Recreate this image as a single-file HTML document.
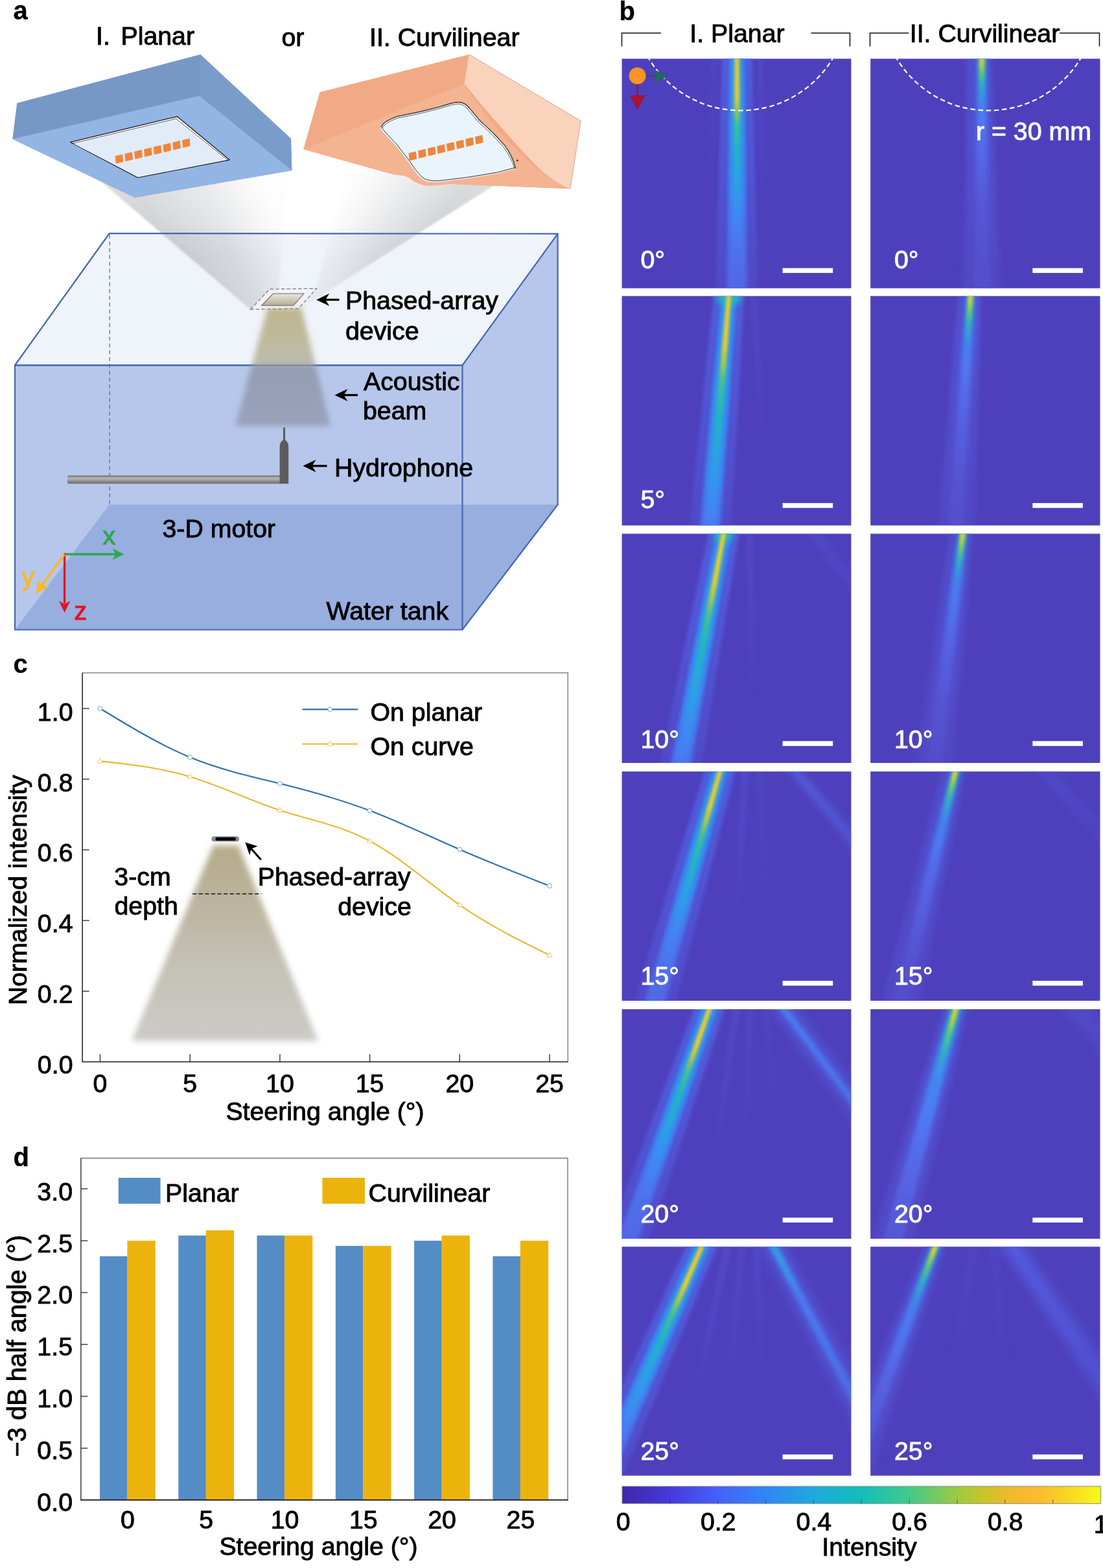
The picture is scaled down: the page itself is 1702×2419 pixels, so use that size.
<!DOCTYPE html>
<html lang="en">
<head>
<meta charset="utf-8">
<title>Phased-array beam steering on planar and curvilinear surfaces</title>
<style>
html,body{margin:0;padding:0;background:#fff;}
body{width:1702px;height:2419px;overflow:hidden;}
svg{display:block;}
text{font-family:"Liberation Sans", sans-serif;}
</style>
</head>
<body>
<svg width="1702" height="2419" viewBox="0 0 1702 2419">
<defs>
<linearGradient id="gbL" gradientUnits="userSpaceOnUse" x1="260" y1="400" x2="425" y2="330">
<stop offset="0" stop-color="#939599" stop-opacity="0.50"/><stop offset="0.55" stop-color="#9c9ea3" stop-opacity="0.30"/><stop offset="1" stop-color="#b3b5ba" stop-opacity="0.04"/></linearGradient>
<linearGradient id="gbR" gradientUnits="userSpaceOnUse" x1="505" y1="350" x2="640" y2="420">
<stop offset="0" stop-color="#b3b5ba" stop-opacity="0.03"/><stop offset="0.5" stop-color="#9c9ea3" stop-opacity="0.28"/><stop offset="1" stop-color="#939599" stop-opacity="0.50"/></linearGradient>
<linearGradient id="gfade" gradientUnits="userSpaceOnUse" x1="0" y1="280" x2="0" y2="400">
<stop offset="0" stop-color="#fff" stop-opacity="0.35"/><stop offset="1" stop-color="#fff" stop-opacity="0"/></linearGradient>
<filter id="blur2" x="-10%" y="-10%" width="120%" height="120%"><feGaussianBlur stdDeviation="1.5"/></filter>
<filter id="blur4" x="-20%" y="-20%" width="140%" height="140%"><feGaussianBlur stdDeviation="4.2"/></filter>
<linearGradient id="gac" gradientUnits="userSpaceOnUse" x1="0" y1="470" x2="0" y2="660">
<stop offset="0" stop-color="#b8ad80" stop-opacity="0.88"/><stop offset="0.3" stop-color="#b7b08e" stop-opacity="0.85"/><stop offset="0.47" stop-color="#b3b1a0" stop-opacity="0.85"/><stop offset="0.5" stop-color="#858a98" stop-opacity="0.68"/><stop offset="1" stop-color="#878c9c" stop-opacity="0.62"/></linearGradient>
<linearGradient id="grod" x1="0" y1="0" x2="0" y2="1">
<stop offset="0" stop-color="#6f6f6f"/><stop offset="0.35" stop-color="#b9b9b9"/><stop offset="0.7" stop-color="#8e8e8e"/><stop offset="1" stop-color="#6a6a6a"/></linearGradient>
<linearGradient id="gdev" gradientUnits="userSpaceOnUse" x1="0" y1="452" x2="0" y2="472">
<stop offset="0" stop-color="#ecebe6"/><stop offset="1" stop-color="#b5ab8c"/></linearGradient>

<linearGradient id="gin" gradientUnits="userSpaceOnUse" x1="0" y1="1300" x2="0" y2="1610">
<stop offset="0" stop-color="#b6ab8a"/><stop offset="0.25" stop-color="#bab29a"/><stop offset="0.6" stop-color="#c4c0b4"/><stop offset="1" stop-color="#cccbc8"/></linearGradient>
<filter id="blur5" x="-10%" y="-10%" width="120%" height="120%"><feGaussianBlur stdDeviation="4.6"/></filter>
<filter id="fb1" x="-200%" y="-10%" width="500%" height="120%"><feGaussianBlur stdDeviation="1.9"/></filter>
<filter id="fb3" x="-200%" y="-10%" width="500%" height="120%"><feGaussianBlur stdDeviation="3"/></filter>
<filter id="fb5" x="-200%" y="-10%" width="500%" height="120%"><feGaussianBlur stdDeviation="5"/></filter>
<filter id="fb8" x="-200%" y="-10%" width="500%" height="120%"><feGaussianBlur stdDeviation="8"/></filter>
<clipPath id="cl00"><rect x="959.6" y="90.6" width="353.8" height="354.1"/></clipPath>
<clipPath id="cl01"><rect x="959.6" y="456.7" width="353.8" height="353.9"/></clipPath>
<clipPath id="cl02"><rect x="959.6" y="823.4" width="353.8" height="353.6"/></clipPath>
<clipPath id="cl03"><rect x="959.6" y="1190.2" width="353.8" height="353.7"/></clipPath>
<clipPath id="cl04"><rect x="959.6" y="1557.0" width="353.8" height="354.0"/></clipPath>
<clipPath id="cl05"><rect x="959.6" y="1923.3" width="353.8" height="353.3"/></clipPath>
<clipPath id="cl10"><rect x="1343.2" y="90.6" width="354.3" height="354.1"/></clipPath>
<clipPath id="cl11"><rect x="1343.2" y="456.7" width="354.3" height="353.9"/></clipPath>
<clipPath id="cl12"><rect x="1343.2" y="823.4" width="354.3" height="353.6"/></clipPath>
<clipPath id="cl13"><rect x="1343.2" y="1190.2" width="354.3" height="353.7"/></clipPath>
<clipPath id="cl14"><rect x="1343.2" y="1557.0" width="354.3" height="354.0"/></clipPath>
<clipPath id="cl15"><rect x="1343.2" y="1923.3" width="354.3" height="353.3"/></clipPath>
<linearGradient id="lg1" gradientUnits="userSpaceOnUse" x1="0" y1="-24" x2="0" y2="380"><stop offset="0.000" stop-color="#5364ea" stop-opacity="0.420"/><stop offset="0.554" stop-color="#5364ea" stop-opacity="0.360"/><stop offset="1.000" stop-color="#5560e4" stop-opacity="0.300"/></linearGradient>
<linearGradient id="lg2" gradientUnits="userSpaceOnUse" x1="0" y1="-24" x2="0" y2="380"><stop offset="0.000" stop-color="#5674f8" stop-opacity="0.700"/><stop offset="0.431" stop-color="#5672f6" stop-opacity="0.500"/><stop offset="0.802" stop-color="#5870f4" stop-opacity="0.250"/><stop offset="1.000" stop-color="#5a6cf0" stop-opacity="0.120"/></linearGradient>
<linearGradient id="lg3" gradientUnits="userSpaceOnUse" x1="0" y1="-24" x2="0" y2="380"><stop offset="0.000" stop-color="#5674f8" stop-opacity="0.700"/><stop offset="0.431" stop-color="#5672f6" stop-opacity="0.500"/><stop offset="0.802" stop-color="#5870f4" stop-opacity="0.250"/><stop offset="1.000" stop-color="#5a6cf0" stop-opacity="0.120"/></linearGradient>
<linearGradient id="lg4" gradientUnits="userSpaceOnUse" x1="0" y1="-24" x2="0" y2="380"><stop offset="0.000" stop-color="#3193f6" stop-opacity="0.970"/><stop offset="0.327" stop-color="#2f97f4" stop-opacity="0.970"/><stop offset="0.572" stop-color="#3a90f8" stop-opacity="0.900"/><stop offset="0.728" stop-color="#4a82fb" stop-opacity="0.780"/><stop offset="1.000" stop-color="#5676f6" stop-opacity="0.580"/></linearGradient>
<linearGradient id="lg5" gradientUnits="userSpaceOnUse" x1="0" y1="-24" x2="0" y2="380"><stop offset="0.000" stop-color="#e9cf27" stop-opacity="1.000"/><stop offset="0.198" stop-color="#e3d02c" stop-opacity="1.000"/><stop offset="0.249" stop-color="#a6cc4a" stop-opacity="1.000"/><stop offset="0.304" stop-color="#45c290" stop-opacity="0.970"/><stop offset="0.394" stop-color="#1fb8bc" stop-opacity="0.950"/><stop offset="0.538" stop-color="#27a6e0" stop-opacity="0.800"/><stop offset="0.705" stop-color="#3a92f6" stop-opacity="0.300"/><stop offset="0.817" stop-color="#3a92f6" stop-opacity="0.000"/><stop offset="1.000" stop-color="#3a92f6" stop-opacity="0.000"/></linearGradient>
<linearGradient id="lg6" gradientUnits="userSpaceOnUse" x1="0" y1="-40" x2="0" y2="440"><stop offset="0.000" stop-color="#5a66ea" stop-opacity="0.3"/><stop offset="0.344" stop-color="#5a66ea" stop-opacity="0.15"/><stop offset="0.604" stop-color="#5a66ea" stop-opacity="0.0"/><stop offset="1.000" stop-color="#5a66ea" stop-opacity="0"/></linearGradient>
<linearGradient id="lg7" gradientUnits="userSpaceOnUse" x1="0" y1="-40" x2="0" y2="440"><stop offset="0.000" stop-color="#5a66ea" stop-opacity="0.2"/><stop offset="0.344" stop-color="#5a66ea" stop-opacity="0.1"/><stop offset="0.604" stop-color="#5a66ea" stop-opacity="0.0"/><stop offset="1.000" stop-color="#5a66ea" stop-opacity="0"/></linearGradient>
<linearGradient id="lg8" gradientUnits="userSpaceOnUse" x1="0" y1="-24" x2="0" y2="380"><stop offset="0.000" stop-color="#5364ea" stop-opacity="0.420"/><stop offset="0.554" stop-color="#5364ea" stop-opacity="0.360"/><stop offset="1.000" stop-color="#5560e4" stop-opacity="0.300"/></linearGradient>
<linearGradient id="lg9" gradientUnits="userSpaceOnUse" x1="0" y1="-24" x2="0" y2="380"><stop offset="0.000" stop-color="#5674f8" stop-opacity="0.700"/><stop offset="0.431" stop-color="#5672f6" stop-opacity="0.500"/><stop offset="0.802" stop-color="#5870f4" stop-opacity="0.250"/><stop offset="1.000" stop-color="#5a6cf0" stop-opacity="0.120"/></linearGradient>
<linearGradient id="lg10" gradientUnits="userSpaceOnUse" x1="0" y1="-24" x2="0" y2="380"><stop offset="0.000" stop-color="#5674f8" stop-opacity="0.700"/><stop offset="0.431" stop-color="#5672f6" stop-opacity="0.500"/><stop offset="0.802" stop-color="#5870f4" stop-opacity="0.250"/><stop offset="1.000" stop-color="#5a6cf0" stop-opacity="0.120"/></linearGradient>
<linearGradient id="lg11" gradientUnits="userSpaceOnUse" x1="0" y1="-24" x2="0" y2="380"><stop offset="0.000" stop-color="#3193f6" stop-opacity="0.970"/><stop offset="0.416" stop-color="#2f97f4" stop-opacity="0.970"/><stop offset="0.743" stop-color="#3a90f8" stop-opacity="0.900"/><stop offset="0.950" stop-color="#4a82fb" stop-opacity="0.780"/><stop offset="1.000" stop-color="#5676f6" stop-opacity="0.580"/></linearGradient>
<linearGradient id="lg12" gradientUnits="userSpaceOnUse" x1="0" y1="-24" x2="0" y2="380"><stop offset="0.000" stop-color="#e9cf27" stop-opacity="1.000"/><stop offset="0.244" stop-color="#e3d02c" stop-opacity="1.000"/><stop offset="0.312" stop-color="#a6cc4a" stop-opacity="1.000"/><stop offset="0.386" stop-color="#45c290" stop-opacity="0.970"/><stop offset="0.505" stop-color="#1fb8bc" stop-opacity="0.950"/><stop offset="0.698" stop-color="#27a6e0" stop-opacity="0.800"/><stop offset="0.921" stop-color="#3a92f6" stop-opacity="0.300"/><stop offset="1.000" stop-color="#3a92f6" stop-opacity="0.000"/><stop offset="1.000" stop-color="#3a92f6" stop-opacity="0.000"/></linearGradient>
<linearGradient id="lg13" gradientUnits="userSpaceOnUse" x1="0" y1="-40" x2="0" y2="440"><stop offset="0.000" stop-color="#5a66ea" stop-opacity="0.25"/><stop offset="0.354" stop-color="#5a66ea" stop-opacity="0.125"/><stop offset="0.625" stop-color="#5a66ea" stop-opacity="0"/><stop offset="1.000" stop-color="#5a66ea" stop-opacity="0"/></linearGradient>
<linearGradient id="lg14" gradientUnits="userSpaceOnUse" x1="0" y1="-24" x2="0" y2="380"><stop offset="0.000" stop-color="#5364ea" stop-opacity="0.420"/><stop offset="0.554" stop-color="#5364ea" stop-opacity="0.360"/><stop offset="1.000" stop-color="#5560e4" stop-opacity="0.300"/></linearGradient>
<linearGradient id="lg15" gradientUnits="userSpaceOnUse" x1="0" y1="-24" x2="0" y2="380"><stop offset="0.000" stop-color="#5674f8" stop-opacity="0.700"/><stop offset="0.431" stop-color="#5672f6" stop-opacity="0.500"/><stop offset="0.802" stop-color="#5870f4" stop-opacity="0.250"/><stop offset="1.000" stop-color="#5a6cf0" stop-opacity="0.120"/></linearGradient>
<linearGradient id="lg16" gradientUnits="userSpaceOnUse" x1="0" y1="-24" x2="0" y2="380"><stop offset="0.000" stop-color="#5674f8" stop-opacity="0.700"/><stop offset="0.431" stop-color="#5672f6" stop-opacity="0.500"/><stop offset="0.802" stop-color="#5870f4" stop-opacity="0.250"/><stop offset="1.000" stop-color="#5a6cf0" stop-opacity="0.120"/></linearGradient>
<linearGradient id="lg17" gradientUnits="userSpaceOnUse" x1="0" y1="-24" x2="0" y2="380"><stop offset="0.000" stop-color="#3193f6" stop-opacity="0.970"/><stop offset="0.401" stop-color="#2f97f4" stop-opacity="0.970"/><stop offset="0.714" stop-color="#3a90f8" stop-opacity="0.900"/><stop offset="0.913" stop-color="#4a82fb" stop-opacity="0.780"/><stop offset="1.000" stop-color="#5676f6" stop-opacity="0.580"/></linearGradient>
<linearGradient id="lg18" gradientUnits="userSpaceOnUse" x1="0" y1="-24" x2="0" y2="380"><stop offset="0.000" stop-color="#e9cf27" stop-opacity="1.000"/><stop offset="0.236" stop-color="#e3d02c" stop-opacity="1.000"/><stop offset="0.301" stop-color="#a6cc4a" stop-opacity="1.000"/><stop offset="0.373" stop-color="#45c290" stop-opacity="0.970"/><stop offset="0.486" stop-color="#1fb8bc" stop-opacity="0.950"/><stop offset="0.671" stop-color="#27a6e0" stop-opacity="0.800"/><stop offset="0.885" stop-color="#3a92f6" stop-opacity="0.300"/><stop offset="1.000" stop-color="#3a92f6" stop-opacity="0.000"/><stop offset="1.000" stop-color="#3a92f6" stop-opacity="0.000"/></linearGradient>
<linearGradient id="lg19" gradientUnits="userSpaceOnUse" x1="0" y1="-40" x2="0" y2="440"><stop offset="0.000" stop-color="#5a66ea" stop-opacity="0.3"/><stop offset="0.354" stop-color="#5a66ea" stop-opacity="0.15"/><stop offset="0.625" stop-color="#5a66ea" stop-opacity="0"/><stop offset="1.000" stop-color="#5a66ea" stop-opacity="0"/></linearGradient>
<linearGradient id="lg20" gradientUnits="userSpaceOnUse" x1="0" y1="-40" x2="0" y2="440"><stop offset="0.000" stop-color="#5a66ea" stop-opacity="0.25"/><stop offset="0.354" stop-color="#5a66ea" stop-opacity="0.125"/><stop offset="0.625" stop-color="#5a66ea" stop-opacity="0"/><stop offset="1.000" stop-color="#5a66ea" stop-opacity="0"/></linearGradient>
<linearGradient id="lg21" gradientUnits="userSpaceOnUse" x1="0" y1="-24" x2="0" y2="380"><stop offset="0.000" stop-color="#5364ea" stop-opacity="0.420"/><stop offset="0.554" stop-color="#5364ea" stop-opacity="0.360"/><stop offset="1.000" stop-color="#5560e4" stop-opacity="0.300"/></linearGradient>
<linearGradient id="lg22" gradientUnits="userSpaceOnUse" x1="0" y1="-24" x2="0" y2="380"><stop offset="0.000" stop-color="#5674f8" stop-opacity="0.700"/><stop offset="0.431" stop-color="#5672f6" stop-opacity="0.500"/><stop offset="0.802" stop-color="#5870f4" stop-opacity="0.250"/><stop offset="1.000" stop-color="#5a6cf0" stop-opacity="0.120"/></linearGradient>
<linearGradient id="lg23" gradientUnits="userSpaceOnUse" x1="0" y1="-24" x2="0" y2="380"><stop offset="0.000" stop-color="#5674f8" stop-opacity="0.700"/><stop offset="0.431" stop-color="#5672f6" stop-opacity="0.500"/><stop offset="0.802" stop-color="#5870f4" stop-opacity="0.250"/><stop offset="1.000" stop-color="#5a6cf0" stop-opacity="0.120"/></linearGradient>
<linearGradient id="lg24" gradientUnits="userSpaceOnUse" x1="0" y1="-24" x2="0" y2="380"><stop offset="0.000" stop-color="#3193f6" stop-opacity="0.970"/><stop offset="0.327" stop-color="#2f97f4" stop-opacity="0.970"/><stop offset="0.572" stop-color="#3a90f8" stop-opacity="0.900"/><stop offset="0.728" stop-color="#4a82fb" stop-opacity="0.780"/><stop offset="1.000" stop-color="#5676f6" stop-opacity="0.580"/></linearGradient>
<linearGradient id="lg25" gradientUnits="userSpaceOnUse" x1="0" y1="-24" x2="0" y2="380"><stop offset="0.000" stop-color="#e9cf27" stop-opacity="1.000"/><stop offset="0.198" stop-color="#e3d02c" stop-opacity="1.000"/><stop offset="0.249" stop-color="#a6cc4a" stop-opacity="1.000"/><stop offset="0.304" stop-color="#45c290" stop-opacity="0.970"/><stop offset="0.394" stop-color="#1fb8bc" stop-opacity="0.950"/><stop offset="0.538" stop-color="#27a6e0" stop-opacity="0.800"/><stop offset="0.705" stop-color="#3a92f6" stop-opacity="0.300"/><stop offset="0.817" stop-color="#3a92f6" stop-opacity="0.000"/><stop offset="1.000" stop-color="#3a92f6" stop-opacity="0.000"/></linearGradient>
<linearGradient id="lg26" gradientUnits="userSpaceOnUse" x1="0" y1="-40" x2="0" y2="440"><stop offset="0.000" stop-color="#5a66ea" stop-opacity="0.35"/><stop offset="0.333" stop-color="#5a66ea" stop-opacity="0.175"/><stop offset="0.583" stop-color="#5a66ea" stop-opacity="0"/><stop offset="1.000" stop-color="#5a66ea" stop-opacity="0"/></linearGradient>
<linearGradient id="lg27" gradientUnits="userSpaceOnUse" x1="0" y1="-40" x2="0" y2="440"><stop offset="0.000" stop-color="#5a66ea" stop-opacity="0.2"/><stop offset="0.312" stop-color="#5a66ea" stop-opacity="0.1"/><stop offset="0.542" stop-color="#5a66ea" stop-opacity="0"/><stop offset="1.000" stop-color="#5a66ea" stop-opacity="0"/></linearGradient>
<linearGradient id="lg28" gradientUnits="userSpaceOnUse" x1="0" y1="-40" x2="0" y2="440"><stop offset="0.000" stop-color="#5570f4" stop-opacity="0.6"/><stop offset="0.396" stop-color="#5570f4" stop-opacity="0.36"/><stop offset="0.708" stop-color="#5570f4" stop-opacity="0.12"/><stop offset="1.000" stop-color="#5570f4" stop-opacity="0"/></linearGradient>
<linearGradient id="lg29" gradientUnits="userSpaceOnUse" x1="0" y1="-24" x2="0" y2="380"><stop offset="0.000" stop-color="#5364ea" stop-opacity="0.420"/><stop offset="0.554" stop-color="#5364ea" stop-opacity="0.360"/><stop offset="1.000" stop-color="#5560e4" stop-opacity="0.300"/></linearGradient>
<linearGradient id="lg30" gradientUnits="userSpaceOnUse" x1="0" y1="-24" x2="0" y2="380"><stop offset="0.000" stop-color="#5674f8" stop-opacity="0.700"/><stop offset="0.431" stop-color="#5672f6" stop-opacity="0.500"/><stop offset="0.802" stop-color="#5870f4" stop-opacity="0.250"/><stop offset="1.000" stop-color="#5a6cf0" stop-opacity="0.120"/></linearGradient>
<linearGradient id="lg31" gradientUnits="userSpaceOnUse" x1="0" y1="-24" x2="0" y2="380"><stop offset="0.000" stop-color="#5674f8" stop-opacity="0.700"/><stop offset="0.431" stop-color="#5672f6" stop-opacity="0.500"/><stop offset="0.802" stop-color="#5870f4" stop-opacity="0.250"/><stop offset="1.000" stop-color="#5a6cf0" stop-opacity="0.120"/></linearGradient>
<linearGradient id="lg32" gradientUnits="userSpaceOnUse" x1="0" y1="-24" x2="0" y2="380"><stop offset="0.000" stop-color="#3193f6" stop-opacity="0.970"/><stop offset="0.321" stop-color="#2f97f4" stop-opacity="0.970"/><stop offset="0.560" stop-color="#3a90f8" stop-opacity="0.900"/><stop offset="0.713" stop-color="#4a82fb" stop-opacity="0.780"/><stop offset="1.000" stop-color="#5676f6" stop-opacity="0.580"/></linearGradient>
<linearGradient id="lg33" gradientUnits="userSpaceOnUse" x1="0" y1="-24" x2="0" y2="380"><stop offset="0.000" stop-color="#e9cf27" stop-opacity="1.000"/><stop offset="0.194" stop-color="#e3d02c" stop-opacity="1.000"/><stop offset="0.245" stop-color="#a6cc4a" stop-opacity="1.000"/><stop offset="0.299" stop-color="#45c290" stop-opacity="0.970"/><stop offset="0.386" stop-color="#1fb8bc" stop-opacity="0.950"/><stop offset="0.528" stop-color="#27a6e0" stop-opacity="0.800"/><stop offset="0.691" stop-color="#3a92f6" stop-opacity="0.300"/><stop offset="0.800" stop-color="#3a92f6" stop-opacity="0.000"/><stop offset="1.000" stop-color="#3a92f6" stop-opacity="0.000"/></linearGradient>
<linearGradient id="lg34" gradientUnits="userSpaceOnUse" x1="0" y1="-40" x2="0" y2="440"><stop offset="0.000" stop-color="#5a66ea" stop-opacity="0.35"/><stop offset="0.333" stop-color="#5a66ea" stop-opacity="0.175"/><stop offset="0.583" stop-color="#5a66ea" stop-opacity="0"/><stop offset="1.000" stop-color="#5a66ea" stop-opacity="0"/></linearGradient>
<linearGradient id="lg35" gradientUnits="userSpaceOnUse" x1="0" y1="-40" x2="0" y2="440"><stop offset="0.000" stop-color="#5a66ea" stop-opacity="0.25"/><stop offset="0.312" stop-color="#5a66ea" stop-opacity="0.125"/><stop offset="0.542" stop-color="#5a66ea" stop-opacity="0"/><stop offset="1.000" stop-color="#5a66ea" stop-opacity="0"/></linearGradient>
<linearGradient id="lg36" gradientUnits="userSpaceOnUse" x1="0" y1="-40" x2="0" y2="440"><stop offset="0.000" stop-color="#5a66ea" stop-opacity="0.15"/><stop offset="0.292" stop-color="#5a66ea" stop-opacity="0.075"/><stop offset="0.500" stop-color="#5a66ea" stop-opacity="0"/><stop offset="1.000" stop-color="#5a66ea" stop-opacity="0"/></linearGradient>
<linearGradient id="lg37" gradientUnits="userSpaceOnUse" x1="0" y1="-40" x2="0" y2="440"><stop offset="0.000" stop-color="#5570f4" stop-opacity="0.55"/><stop offset="0.458" stop-color="#5570f4" stop-opacity="0.375"/><stop offset="0.833" stop-color="#5570f4" stop-opacity="0.2"/><stop offset="1.000" stop-color="#5570f4" stop-opacity="0"/></linearGradient>
<linearGradient id="lg38" gradientUnits="userSpaceOnUse" x1="0" y1="-40" x2="0" y2="440"><stop offset="0.000" stop-color="#4a86fa" stop-opacity="0.9"/><stop offset="0.427" stop-color="#4a86fa" stop-opacity="0.575"/><stop offset="0.771" stop-color="#4a86fa" stop-opacity="0.25"/><stop offset="1.000" stop-color="#4a86fa" stop-opacity="0"/></linearGradient>
<linearGradient id="lg39" gradientUnits="userSpaceOnUse" x1="0" y1="-24" x2="0" y2="380"><stop offset="0.000" stop-color="#5364ea" stop-opacity="0.420"/><stop offset="0.554" stop-color="#5364ea" stop-opacity="0.360"/><stop offset="1.000" stop-color="#5560e4" stop-opacity="0.300"/></linearGradient>
<linearGradient id="lg40" gradientUnits="userSpaceOnUse" x1="0" y1="-24" x2="0" y2="380"><stop offset="0.000" stop-color="#5674f8" stop-opacity="0.700"/><stop offset="0.431" stop-color="#5672f6" stop-opacity="0.500"/><stop offset="0.802" stop-color="#5870f4" stop-opacity="0.250"/><stop offset="1.000" stop-color="#5a6cf0" stop-opacity="0.120"/></linearGradient>
<linearGradient id="lg41" gradientUnits="userSpaceOnUse" x1="0" y1="-24" x2="0" y2="380"><stop offset="0.000" stop-color="#5674f8" stop-opacity="0.700"/><stop offset="0.431" stop-color="#5672f6" stop-opacity="0.500"/><stop offset="0.802" stop-color="#5870f4" stop-opacity="0.250"/><stop offset="1.000" stop-color="#5a6cf0" stop-opacity="0.120"/></linearGradient>
<linearGradient id="lg42" gradientUnits="userSpaceOnUse" x1="0" y1="-24" x2="0" y2="380"><stop offset="0.000" stop-color="#3193f6" stop-opacity="0.970"/><stop offset="0.342" stop-color="#2f97f4" stop-opacity="0.970"/><stop offset="0.600" stop-color="#3a90f8" stop-opacity="0.900"/><stop offset="0.765" stop-color="#4a82fb" stop-opacity="0.780"/><stop offset="1.000" stop-color="#5676f6" stop-opacity="0.580"/></linearGradient>
<linearGradient id="lg43" gradientUnits="userSpaceOnUse" x1="0" y1="-24" x2="0" y2="380"><stop offset="0.000" stop-color="#e9cf27" stop-opacity="1.000"/><stop offset="0.205" stop-color="#e3d02c" stop-opacity="1.000"/><stop offset="0.259" stop-color="#a6cc4a" stop-opacity="1.000"/><stop offset="0.318" stop-color="#45c290" stop-opacity="0.970"/><stop offset="0.412" stop-color="#1fb8bc" stop-opacity="0.950"/><stop offset="0.565" stop-color="#27a6e0" stop-opacity="0.800"/><stop offset="0.741" stop-color="#3a92f6" stop-opacity="0.300"/><stop offset="0.859" stop-color="#3a92f6" stop-opacity="0.000"/><stop offset="1.000" stop-color="#3a92f6" stop-opacity="0.000"/></linearGradient>
<linearGradient id="lg44" gradientUnits="userSpaceOnUse" x1="0" y1="-40" x2="0" y2="440"><stop offset="0.000" stop-color="#5a66ea" stop-opacity="0.4"/><stop offset="0.333" stop-color="#5a66ea" stop-opacity="0.2"/><stop offset="0.583" stop-color="#5a66ea" stop-opacity="0"/><stop offset="1.000" stop-color="#5a66ea" stop-opacity="0"/></linearGradient>
<linearGradient id="lg45" gradientUnits="userSpaceOnUse" x1="0" y1="-40" x2="0" y2="440"><stop offset="0.000" stop-color="#5a66ea" stop-opacity="0.3"/><stop offset="0.312" stop-color="#5a66ea" stop-opacity="0.15"/><stop offset="0.542" stop-color="#5a66ea" stop-opacity="0"/><stop offset="1.000" stop-color="#5a66ea" stop-opacity="0"/></linearGradient>
<linearGradient id="lg46" gradientUnits="userSpaceOnUse" x1="0" y1="-40" x2="0" y2="440"><stop offset="0.000" stop-color="#5a66ea" stop-opacity="0.3"/><stop offset="0.292" stop-color="#5a66ea" stop-opacity="0.15"/><stop offset="0.500" stop-color="#5a66ea" stop-opacity="0"/><stop offset="1.000" stop-color="#5a66ea" stop-opacity="0"/></linearGradient>
<linearGradient id="lg47" gradientUnits="userSpaceOnUse" x1="0" y1="-40" x2="0" y2="440"><stop offset="0.000" stop-color="#5570f4" stop-opacity="0.6"/><stop offset="0.479" stop-color="#5570f4" stop-opacity="0.425"/><stop offset="0.875" stop-color="#5570f4" stop-opacity="0.25"/><stop offset="1.000" stop-color="#5570f4" stop-opacity="0"/></linearGradient>
<linearGradient id="lg48" gradientUnits="userSpaceOnUse" x1="0" y1="-40" x2="0" y2="440"><stop offset="0.000" stop-color="#4a86fa" stop-opacity="0.9"/><stop offset="0.458" stop-color="#4a86fa" stop-opacity="0.625"/><stop offset="0.833" stop-color="#4a86fa" stop-opacity="0.35"/><stop offset="1.000" stop-color="#4a86fa" stop-opacity="0"/></linearGradient>
<linearGradient id="lg49" gradientUnits="userSpaceOnUse" x1="0" y1="-40" x2="0" y2="440"><stop offset="0.000" stop-color="#22b0d4" stop-opacity="0.95"/><stop offset="0.177" stop-color="#22b0d4" stop-opacity="0.475"/><stop offset="0.271" stop-color="#22b0d4" stop-opacity="0.0"/><stop offset="1.000" stop-color="#22b0d4" stop-opacity="0"/></linearGradient>
<linearGradient id="lg50" gradientUnits="userSpaceOnUse" x1="0" y1="-24" x2="0" y2="380"><stop offset="0.000" stop-color="#5266ee" stop-opacity="0.570"/><stop offset="0.356" stop-color="#5566ea" stop-opacity="0.475"/><stop offset="0.678" stop-color="#5a5fe0" stop-opacity="0.380"/><stop offset="1.000" stop-color="#5c58d8" stop-opacity="0.285"/></linearGradient>
<linearGradient id="lg51" gradientUnits="userSpaceOnUse" x1="0" y1="-24" x2="0" y2="380"><stop offset="0.000" stop-color="#22b2c6" stop-opacity="0.902"/><stop offset="0.108" stop-color="#25aed0" stop-opacity="0.902"/><stop offset="0.171" stop-color="#3a95f0" stop-opacity="0.855"/><stop offset="0.304" stop-color="#4f80fb" stop-opacity="0.807"/><stop offset="0.460" stop-color="#5872f2" stop-opacity="0.589"/><stop offset="0.639" stop-color="#5a66e6" stop-opacity="0.380"/><stop offset="1.000" stop-color="#5a60e0" stop-opacity="0.209"/></linearGradient>
<linearGradient id="lg52" gradientUnits="userSpaceOnUse" x1="0" y1="-24" x2="0" y2="380"><stop offset="0.000" stop-color="#ddd02c" stop-opacity="1.000"/><stop offset="0.077" stop-color="#d3d034" stop-opacity="1.000"/><stop offset="0.108" stop-color="#7ecb62" stop-opacity="0.900"/><stop offset="0.153" stop-color="#2fbfa8" stop-opacity="0.700"/><stop offset="0.226" stop-color="#22b4c4" stop-opacity="0.000"/><stop offset="1.000" stop-color="#22b4c4" stop-opacity="0.000"/></linearGradient>
<linearGradient id="lg53" gradientUnits="userSpaceOnUse" x1="0" y1="-40" x2="0" y2="440"><stop offset="0.000" stop-color="#5a6cf0" stop-opacity="0.45"/><stop offset="0.344" stop-color="#5a6cf0" stop-opacity="0.25"/><stop offset="0.604" stop-color="#5a6cf0" stop-opacity="0.05"/><stop offset="1.000" stop-color="#5a6cf0" stop-opacity="0"/></linearGradient>
<linearGradient id="lg54" gradientUnits="userSpaceOnUse" x1="0" y1="-24" x2="0" y2="380"><stop offset="0.000" stop-color="#5266ee" stop-opacity="0.552"/><stop offset="0.356" stop-color="#5566ea" stop-opacity="0.460"/><stop offset="0.678" stop-color="#5a5fe0" stop-opacity="0.368"/><stop offset="1.000" stop-color="#5c58d8" stop-opacity="0.276"/></linearGradient>
<linearGradient id="lg55" gradientUnits="userSpaceOnUse" x1="0" y1="-24" x2="0" y2="380"><stop offset="0.000" stop-color="#22b2c6" stop-opacity="0.874"/><stop offset="0.117" stop-color="#25aed0" stop-opacity="0.874"/><stop offset="0.189" stop-color="#3a95f0" stop-opacity="0.828"/><stop offset="0.345" stop-color="#4f80fb" stop-opacity="0.782"/><stop offset="0.527" stop-color="#5872f2" stop-opacity="0.570"/><stop offset="0.735" stop-color="#5a66e6" stop-opacity="0.368"/><stop offset="1.000" stop-color="#5a60e0" stop-opacity="0.202"/></linearGradient>
<linearGradient id="lg56" gradientUnits="userSpaceOnUse" x1="0" y1="-24" x2="0" y2="380"><stop offset="0.000" stop-color="#ddd02c" stop-opacity="1.000"/><stop offset="0.080" stop-color="#d3d034" stop-opacity="1.000"/><stop offset="0.117" stop-color="#7ecb62" stop-opacity="0.900"/><stop offset="0.169" stop-color="#2fbfa8" stop-opacity="0.700"/><stop offset="0.254" stop-color="#22b4c4" stop-opacity="0.000"/><stop offset="1.000" stop-color="#22b4c4" stop-opacity="0.000"/></linearGradient>
<linearGradient id="lg57" gradientUnits="userSpaceOnUse" x1="0" y1="-40" x2="0" y2="440"><stop offset="0.000" stop-color="#5a6cf0" stop-opacity="0.4"/><stop offset="0.292" stop-color="#5a6cf0" stop-opacity="0.225"/><stop offset="0.500" stop-color="#5a6cf0" stop-opacity="0.05"/><stop offset="1.000" stop-color="#5a6cf0" stop-opacity="0"/></linearGradient>
<linearGradient id="lg58" gradientUnits="userSpaceOnUse" x1="0" y1="-40" x2="0" y2="440"><stop offset="0.000" stop-color="#5a6cf0" stop-opacity="0.4"/><stop offset="0.250" stop-color="#5a6cf0" stop-opacity="0.225"/><stop offset="0.417" stop-color="#5a6cf0" stop-opacity="0.05"/><stop offset="1.000" stop-color="#5a6cf0" stop-opacity="0"/></linearGradient>
<linearGradient id="lg59" gradientUnits="userSpaceOnUse" x1="0" y1="-24" x2="0" y2="380"><stop offset="0.000" stop-color="#5266ee" stop-opacity="0.540"/><stop offset="0.356" stop-color="#5566ea" stop-opacity="0.450"/><stop offset="0.678" stop-color="#5a5fe0" stop-opacity="0.360"/><stop offset="1.000" stop-color="#5c58d8" stop-opacity="0.270"/></linearGradient>
<linearGradient id="lg60" gradientUnits="userSpaceOnUse" x1="0" y1="-24" x2="0" y2="380"><stop offset="0.000" stop-color="#22b2c6" stop-opacity="0.855"/><stop offset="0.114" stop-color="#25aed0" stop-opacity="0.855"/><stop offset="0.183" stop-color="#3a95f0" stop-opacity="0.810"/><stop offset="0.332" stop-color="#4f80fb" stop-opacity="0.765"/><stop offset="0.505" stop-color="#5872f2" stop-opacity="0.558"/><stop offset="0.703" stop-color="#5a66e6" stop-opacity="0.360"/><stop offset="1.000" stop-color="#5a60e0" stop-opacity="0.198"/></linearGradient>
<linearGradient id="lg61" gradientUnits="userSpaceOnUse" x1="0" y1="-24" x2="0" y2="380"><stop offset="0.000" stop-color="#ddd02c" stop-opacity="1.000"/><stop offset="0.079" stop-color="#d3d034" stop-opacity="1.000"/><stop offset="0.114" stop-color="#7ecb62" stop-opacity="0.900"/><stop offset="0.163" stop-color="#2fbfa8" stop-opacity="0.700"/><stop offset="0.245" stop-color="#22b4c4" stop-opacity="0.000"/><stop offset="1.000" stop-color="#22b4c4" stop-opacity="0.000"/></linearGradient>
<linearGradient id="lg62" gradientUnits="userSpaceOnUse" x1="0" y1="-40" x2="0" y2="440"><stop offset="0.000" stop-color="#5a6cf0" stop-opacity="0.3"/><stop offset="0.292" stop-color="#5a6cf0" stop-opacity="0.175"/><stop offset="0.500" stop-color="#5a6cf0" stop-opacity="0.05"/><stop offset="1.000" stop-color="#5a6cf0" stop-opacity="0"/></linearGradient>
<linearGradient id="lg63" gradientUnits="userSpaceOnUse" x1="0" y1="-24" x2="0" y2="380"><stop offset="0.000" stop-color="#5266ee" stop-opacity="0.540"/><stop offset="0.356" stop-color="#5566ea" stop-opacity="0.450"/><stop offset="0.678" stop-color="#5a5fe0" stop-opacity="0.360"/><stop offset="1.000" stop-color="#5c58d8" stop-opacity="0.270"/></linearGradient>
<linearGradient id="lg64" gradientUnits="userSpaceOnUse" x1="0" y1="-24" x2="0" y2="380"><stop offset="0.000" stop-color="#22b2c6" stop-opacity="0.855"/><stop offset="0.117" stop-color="#25aed0" stop-opacity="0.855"/><stop offset="0.189" stop-color="#3a95f0" stop-opacity="0.810"/><stop offset="0.345" stop-color="#4f80fb" stop-opacity="0.765"/><stop offset="0.527" stop-color="#5872f2" stop-opacity="0.558"/><stop offset="0.735" stop-color="#5a66e6" stop-opacity="0.360"/><stop offset="1.000" stop-color="#5a60e0" stop-opacity="0.198"/></linearGradient>
<linearGradient id="lg65" gradientUnits="userSpaceOnUse" x1="0" y1="-24" x2="0" y2="380"><stop offset="0.000" stop-color="#ddd02c" stop-opacity="1.000"/><stop offset="0.080" stop-color="#d3d034" stop-opacity="1.000"/><stop offset="0.117" stop-color="#7ecb62" stop-opacity="0.900"/><stop offset="0.169" stop-color="#2fbfa8" stop-opacity="0.700"/><stop offset="0.254" stop-color="#22b4c4" stop-opacity="0.000"/><stop offset="1.000" stop-color="#22b4c4" stop-opacity="0.000"/></linearGradient>
<linearGradient id="lg66" gradientUnits="userSpaceOnUse" x1="0" y1="-40" x2="0" y2="440"><stop offset="0.000" stop-color="#5a6cf0" stop-opacity="0.3"/><stop offset="0.292" stop-color="#5a6cf0" stop-opacity="0.175"/><stop offset="0.500" stop-color="#5a6cf0" stop-opacity="0.05"/><stop offset="1.000" stop-color="#5a6cf0" stop-opacity="0"/></linearGradient>
<linearGradient id="lg67" gradientUnits="userSpaceOnUse" x1="0" y1="-40" x2="0" y2="440"><stop offset="0.000" stop-color="#5a66ea" stop-opacity="0.22"/><stop offset="0.292" stop-color="#5a66ea" stop-opacity="0.11"/><stop offset="0.500" stop-color="#5a66ea" stop-opacity="0.0"/><stop offset="1.000" stop-color="#5a66ea" stop-opacity="0"/></linearGradient>
<linearGradient id="lg68" gradientUnits="userSpaceOnUse" x1="0" y1="-24" x2="0" y2="380"><stop offset="0.000" stop-color="#5266ee" stop-opacity="0.600"/><stop offset="0.356" stop-color="#5566ea" stop-opacity="0.500"/><stop offset="0.678" stop-color="#5a5fe0" stop-opacity="0.400"/><stop offset="1.000" stop-color="#5c58d8" stop-opacity="0.300"/></linearGradient>
<linearGradient id="lg69" gradientUnits="userSpaceOnUse" x1="0" y1="-24" x2="0" y2="380"><stop offset="0.000" stop-color="#22b2c6" stop-opacity="0.950"/><stop offset="0.141" stop-color="#25aed0" stop-opacity="0.950"/><stop offset="0.245" stop-color="#3a95f0" stop-opacity="0.900"/><stop offset="0.468" stop-color="#4f80fb" stop-opacity="0.850"/><stop offset="0.728" stop-color="#5872f2" stop-opacity="0.620"/><stop offset="1.000" stop-color="#5a66e6" stop-opacity="0.400"/><stop offset="1.000" stop-color="#5a60e0" stop-opacity="0.220"/></linearGradient>
<linearGradient id="lg70" gradientUnits="userSpaceOnUse" x1="0" y1="-24" x2="0" y2="380"><stop offset="0.000" stop-color="#ddd02c" stop-opacity="1.000"/><stop offset="0.089" stop-color="#d3d034" stop-opacity="1.000"/><stop offset="0.141" stop-color="#7ecb62" stop-opacity="0.900"/><stop offset="0.215" stop-color="#2fbfa8" stop-opacity="0.700"/><stop offset="0.338" stop-color="#22b4c4" stop-opacity="0.000"/><stop offset="1.000" stop-color="#22b4c4" stop-opacity="0.000"/></linearGradient>
<linearGradient id="lg71" gradientUnits="userSpaceOnUse" x1="0" y1="-40" x2="0" y2="440"><stop offset="0.000" stop-color="#5a66ea" stop-opacity="0.3"/><stop offset="0.312" stop-color="#5a66ea" stop-opacity="0.15"/><stop offset="0.542" stop-color="#5a66ea" stop-opacity="0.0"/><stop offset="1.000" stop-color="#5a66ea" stop-opacity="0"/></linearGradient>
<linearGradient id="lg72" gradientUnits="userSpaceOnUse" x1="0" y1="-24" x2="0" y2="380"><stop offset="0.000" stop-color="#5266ee" stop-opacity="0.540"/><stop offset="0.356" stop-color="#5566ea" stop-opacity="0.450"/><stop offset="0.678" stop-color="#5a5fe0" stop-opacity="0.360"/><stop offset="1.000" stop-color="#5c58d8" stop-opacity="0.270"/></linearGradient>
<linearGradient id="lg73" gradientUnits="userSpaceOnUse" x1="0" y1="-24" x2="0" y2="380"><stop offset="0.000" stop-color="#22b2c6" stop-opacity="0.855"/><stop offset="0.125" stop-color="#25aed0" stop-opacity="0.855"/><stop offset="0.208" stop-color="#3a95f0" stop-opacity="0.810"/><stop offset="0.386" stop-color="#4f80fb" stop-opacity="0.765"/><stop offset="0.594" stop-color="#5872f2" stop-opacity="0.558"/><stop offset="0.832" stop-color="#5a66e6" stop-opacity="0.360"/><stop offset="1.000" stop-color="#5a60e0" stop-opacity="0.198"/></linearGradient>
<linearGradient id="lg74" gradientUnits="userSpaceOnUse" x1="0" y1="-24" x2="0" y2="380"><stop offset="0.000" stop-color="#ddd02c" stop-opacity="1.000"/><stop offset="0.083" stop-color="#d3d034" stop-opacity="1.000"/><stop offset="0.125" stop-color="#7ecb62" stop-opacity="0.900"/><stop offset="0.184" stop-color="#2fbfa8" stop-opacity="0.700"/><stop offset="0.282" stop-color="#22b4c4" stop-opacity="0.000"/><stop offset="1.000" stop-color="#22b4c4" stop-opacity="0.000"/></linearGradient>
<linearGradient id="lg75" gradientUnits="userSpaceOnUse" x1="0" y1="-40" x2="0" y2="440"><stop offset="0.000" stop-color="#566cf4" stop-opacity="0.7"/><stop offset="0.479" stop-color="#566cf4" stop-opacity="0.425"/><stop offset="0.875" stop-color="#566cf4" stop-opacity="0.15"/><stop offset="1.000" stop-color="#566cf4" stop-opacity="0"/></linearGradient>
<linearGradient id="lg76" gradientUnits="userSpaceOnUse" x1="0" y1="-40" x2="0" y2="440"><stop offset="0.000" stop-color="#5a66ea" stop-opacity="0.2"/><stop offset="0.292" stop-color="#5a66ea" stop-opacity="0.1"/><stop offset="0.500" stop-color="#5a66ea" stop-opacity="0"/><stop offset="1.000" stop-color="#5a66ea" stop-opacity="0"/></linearGradient>
<linearGradient id="lg77" gradientUnits="userSpaceOnUse" x1="0" y1="-40" x2="0" y2="440"><stop offset="0.000" stop-color="#5a66ea" stop-opacity="0.2"/><stop offset="0.292" stop-color="#5a66ea" stop-opacity="0.1"/><stop offset="0.500" stop-color="#5a66ea" stop-opacity="0"/><stop offset="1.000" stop-color="#5a66ea" stop-opacity="0"/></linearGradient>
<linearGradient id="parula" x1="0" y1="0" x2="1" y2="0">
<stop offset="0" stop-color="#3e27ab"/><stop offset="0.1" stop-color="#4639dd"/><stop offset="0.2" stop-color="#4660fb"/>
<stop offset="0.3" stop-color="#2f87f7"/><stop offset="0.4" stop-color="#1da9de"/><stop offset="0.5" stop-color="#13beb8"/>
<stop offset="0.6" stop-color="#40cb8a"/><stop offset="0.7" stop-color="#9bcb3e"/><stop offset="0.76" stop-color="#cfc327"/><stop offset="0.82" stop-color="#f1b92b"/>
<stop offset="0.87" stop-color="#fdbb2e"/><stop offset="0.93" stop-color="#f9d524"/><stop offset="1" stop-color="#f9fb15"/></linearGradient>
</defs>
<rect x="0" y="0" width="1702" height="2419" fill="#ffffff"/>
<g id="panel-a">
<polygon points="168.8,360.0 860.6,360.6 713.5,563.5 23.0,563.5" fill="#eff3fa"/>
<polygon points="23.0,563.5 713.5,563.5 860.6,360.6 860.6,778.5 713.5,971.5 23.0,971.5" fill="#b7c6eb"/>
<polygon points="168.8,778.5 860.6,778.5 713.5,971.5 23.0,971.5" fill="#97aedf"/>
<polygon points="150.0,275.0 445.0,250.0 430.0,452.0 418.0,447.0 387.0,478.0" fill="url(#gbL)" filter="url(#blur2)"/>
<polygon points="536.0,262.0 800.0,262.0 462.0,477.0 487.0,446.0" fill="url(#gbR)" filter="url(#blur2)"/>
<rect x="140" y="250" width="700" height="150" fill="url(#gfade)"/>
<polygon points="168.8,360.0 860.6,360.6 713.5,563.5 23.0,563.5" fill="none" stroke="#4566ac" stroke-width="2.2" stroke-linejoin="round"/>
<polygon points="23.0,563.5 713.5,563.5 713.5,971.5 23.0,971.5" fill="none" stroke="#4566ac" stroke-width="2.2" stroke-linejoin="round"/>
<polyline points="860.6,360.6 860.6,778.5 713.5,971.5" fill="none" stroke="#4566ac" stroke-width="2.2" stroke-linejoin="round"/>
<line x1="169.2" y1="362" x2="169.2" y2="778" stroke="#4566ac" stroke-width="1.2" stroke-dasharray="6 4.5"/>
<polygon points="413.0,474.0 465.0,474.0 510.0,657.0 363.0,657.0" fill="url(#gac)" filter="url(#blur4)"/>
<polygon points="386.5,477.3 416.0,446.0 488.5,445.2 460.5,476.0" fill="#f3f4f7" fill-opacity="0.6" stroke="#858585" stroke-width="1.4" stroke-dasharray="5.5 3.2"/>
<polygon points="403.5,471.3 421.5,453.0 468.8,453.0 453.0,471.3" fill="url(#gdev)" stroke="#666" stroke-width="1.1"/>
<rect x="104" y="733.5" width="330" height="12.8" rx="2.5" fill="url(#grod)"/>
<path d="M431.6 746.3 V689 Q431.8 682 437 678.5 V659.5 H440 V678.5 Q445 682 445.2 689 V746.3 Z" fill="#5c5c5c"/>
<path d="M494.7 462.4 H523.5" stroke="#000" stroke-width="3.2" fill="none"/>
<path d="M488.2 462.4 L508.2 452.79999999999995 L502.2 462.4 L508.2 472.0 Z" fill="#000"/>
<path d="M523 609.5 H552" stroke="#000" stroke-width="3.2" fill="none"/>
<path d="M516.5 609.5 L536.5 599.9 L530.5 609.5 L536.5 619.1 Z" fill="#000"/>
<path d="M474 718.8 H504.5" stroke="#000" stroke-width="3.2" fill="none"/>
<path d="M467.5 718.8 L487.5 709.1999999999999 L481.5 718.8 L487.5 728.4 Z" fill="#000"/>
<text x="20.4" y="30" font-size="40" fill="#000" text-anchor="start" font-weight="bold" stroke="#000" stroke-width="0.3" >a</text>
<text x="148" y="69" font-size="39.3" fill="#000" text-anchor="start" font-weight="normal" stroke="#000" stroke-width="0.9" >I. <tspan dx="5.7">Planar</tspan></text>
<text x="434.5" y="71" font-size="39.3" fill="#000" text-anchor="start" font-weight="normal" stroke="#000" stroke-width="0.9" >or</text>
<text x="570" y="71.3" font-size="39.3" fill="#000" text-anchor="start" font-weight="normal" stroke="#000" stroke-width="0.9" >II. Curvilinear</text>
<text x="533" y="476.5" font-size="39.3" fill="#000" text-anchor="start" font-weight="normal" stroke="#000" stroke-width="0.9" >Phased-array</text>
<text x="533" y="524" font-size="39.3" fill="#000" text-anchor="start" font-weight="normal" stroke="#000" stroke-width="0.9" >device</text>
<text x="561" y="601.7" font-size="39.3" fill="#000" text-anchor="start" font-weight="normal" stroke="#000" stroke-width="0.9" >Acoustic</text>
<text x="560" y="647" font-size="39.3" fill="#000" text-anchor="start" font-weight="normal" stroke="#000" stroke-width="0.9" >beam</text>
<text x="516" y="734.5" font-size="39.3" fill="#000" text-anchor="start" font-weight="normal" stroke="#000" stroke-width="0.9" >Hydrophone</text>
<text x="250.5" y="828.5" font-size="39.3" fill="#000" text-anchor="start" font-weight="normal" stroke="#000" stroke-width="0.9" >3-D motor</text>
<text x="503.5" y="955.5" font-size="39.3" fill="#000" text-anchor="start" font-weight="normal" stroke="#000" stroke-width="0.9" >Water tank</text>
<path d="M99.6 855 H178" stroke="#2aa84f" stroke-width="3.3" fill="none"/>
<path d="M191.5 855 L173.5 846.3 L178.5 855 L173.5 863.7 Z" fill="#2aa84f"/>
<path d="M99.6 853.5 V931" stroke="#e3141f" stroke-width="3.3" fill="none"/>
<path d="M99.6 945 L90.9 927 L99.6 932 L108.3 927 Z" fill="#e3141f"/>
<path d="M99.6 855 L65 902.5" stroke="#f6b92b" stroke-width="3.5" fill="none"/>
<path d="M55 916 L59 895.5 L65.5 902.5 L75 905.5 Z" fill="#f6b92b"/>
<text x="158.5" y="839.5" font-size="39.3" fill="#2aa84f" text-anchor="start" font-weight="normal"  stroke="#2aa84f" stroke-width="1.1">x</text>
<text x="33.5" y="903" font-size="39.3" fill="#f6b92b" text-anchor="start" font-weight="normal"  stroke="#f6b92b" stroke-width="1.1">y</text>
<text x="114.5" y="955.5" font-size="39.3" fill="#e3141f" text-anchor="start" font-weight="normal"  stroke="#e3141f" stroke-width="1.1">z</text>
<polygon points="26.2,159.0 309.0,84.0 449.0,214.0 450.3,263.0 208.0,304.8 19.3,214.5" fill="#7798c6"/>
<polygon points="307.8,147.7 309.0,84.0 449.0,214.0 450.3,263.0" fill="#7a9cca"/>
<polygon points="19.3,214.5 307.8,147.7 450.3,263.0 208.0,304.8" fill="#93b5e3"/>
<polygon points="108.5,219.3 273.4,179.8 354.3,246.7 212.5,274.0" fill="#ffffff" stroke="#111" stroke-width="1.2" stroke-linejoin="round"/>
<polygon points="114.5,222.2 270.5,184.6 348.5,247.0 212.8,272.8" fill="#e2ebf8"/>
<polyline points="111.0,221.6 271.5,183.2 351.5,247.2" fill="none" stroke="#222" stroke-width="0.8"/>
<polygon points="177.7,240.8 189.1,238.0 190.3,249.8 178.9,252.6" fill="#f0853a"/>
<polygon points="192.4,237.3 203.9,234.5 205.1,246.3 193.6,249.1" fill="#f0853a"/>
<polygon points="207.2,233.8 218.7,231.0 219.9,242.8 208.4,245.6" fill="#f0853a"/>
<polygon points="222.0,230.3 233.5,227.5 234.7,239.3 223.2,242.1" fill="#f0853a"/>
<polygon points="236.7,226.8 248.2,224.0 249.4,235.8 237.9,238.6" fill="#f0853a"/>
<polygon points="251.5,223.3 263.0,220.5 264.2,232.3 252.7,235.1" fill="#f0853a"/>
<polygon points="266.3,219.8 277.8,217.0 279.0,228.8 267.5,231.6" fill="#f0853a"/>
<polygon points="281.1,216.3 292.5,213.5 293.7,225.3 282.3,228.1" fill="#f0853a"/>
<path d="M493.5 142.1 L723.8 84.1 L896.2 186.6 L879.9 291.3 L766.9 286.8 L692.6 283.8 Q665 287.5 654 285.9 Q640 282 630.2 273.4 Q620 270 606.4 269 L468.2 230.3 Z" fill="#f1aa85"/>
<path d="M468.2 230.3 L716.4 129.3 Q760 200 830 262 Q860 285 879.9 291.3 L766.9 286.8 L692.6 283.8 Q665 287.5 654 285.9 Q640 282 630.2 273.4 Q620 270 606.4 269 Z" fill="#f4b391"/>
<path d="M723.8 84.1 L896.2 186.6 L879.9 291.3 Q850 280 822 250 Q770 195 716.4 129.3 Z" fill="#f9d3bc"/>
<path d="M723.8 84.1 L896.2 186.6 L879.9 291.3" fill="none" stroke="#d9a78e" stroke-width="1"/>
<path d="M588.6 196.2 Q590 188 612.4 179.8 L648 172.4 L677.8 165 Q700 157.5 707.5 157.6 Q718 158 725.3 167.9 L740.2 185.8 L761 205.1 L778.8 224.4 Q792 243 795.2 258.6 L766.9 266 L722.3 273.4 L677.8 278.8 Q658 280 651 273 Q640 262 633.2 250 L612.4 223 Q593 203 588.6 196.2 Z" fill="#ffffff" stroke="#333" stroke-width="1.1" stroke-linejoin="round"/>
<path d="M588.6 196.2 Q590 188 612.4 179.8 L648 172.4 L677.8 165 Q700 157.5 707.5 157.6 Q718 158 725.3 167.9 L740.2 185.8 L761 205.1 L778.8 224.4 Q792 243 795.2 258.6 L766.9 266 L722.3 273.4 L677.8 278.8 Q658 280 651 273 Q640 262 633.2 250 L612.4 223 Q593 203 588.6 196.2 Z" fill="#e9f4fd" transform="translate(-1.2,2.2)" />
<path d="M588.6 196.2 Q590 188 612.4 179.8 L648 172.4 L677.8 165 Q700 157.5 707.5 157.6 Q718 158 725.3 167.9 L740.2 185.8 L761 205.1 L778.8 224.4 Q792 243 795.2 258.6 L766.9 266 L722.3 273.4 L677.8 278.8 Q658 280 651 273 Q640 262 633.2 250 L612.4 223 Q593 203 588.6 196.2 Z" fill="none" stroke="#333" stroke-width="1.0" stroke-linejoin="round"/>
<path d="M590 197.5 Q592 190.5 613 182.3 L648.5 174.9 L678 167.6 Q700 160.2 707.3 160.3 Q716 160.6 723.3 170.2 L738.2 188 L759 207.3 L776.8 226.6 Q790 245 793.6 259.3" fill="none" stroke="#333" stroke-width="0.8"/>
<circle cx="798.3" cy="247.5" r="1.6" fill="#5a4030"/>
<polygon points="630.5,236.2 641.9,233.4 643.1,245.2 631.7,248.0" fill="#f0853a"/>
<polygon points="645.1,232.6 656.6,229.8 657.8,241.6 646.3,244.4" fill="#f0853a"/>
<polygon points="659.8,229.0 671.2,226.2 672.4,238.0 661.0,240.8" fill="#f0853a"/>
<polygon points="674.4,225.4 685.9,222.6 687.1,234.4 675.6,237.2" fill="#f0853a"/>
<polygon points="689.0,221.8 700.5,219.0 701.7,230.8 690.2,233.6" fill="#f0853a"/>
<polygon points="703.7,218.2 715.1,215.4 716.3,227.2 704.9,230.0" fill="#f0853a"/>
<polygon points="718.3,214.6 729.8,211.8 731.0,223.6 719.5,226.4" fill="#f0853a"/>
<polygon points="733.0,211.0 744.4,208.2 745.6,220.0 734.2,222.8" fill="#f0853a"/>
</g>
<g id="panel-c">
<polygon points="329.0,1304.0 368.0,1304.0 491.0,1606.0 203.0,1606.0" fill="url(#gin)" filter="url(#blur5)"/>
<rect x="326.3" y="1290.2" width="42.8" height="8" rx="4" fill="#8a8a8a"/>
<rect x="332.5" y="1291.7" width="31.5" height="5" rx="2.5" fill="#000"/>
<line x1="297.2" y1="1379" x2="403.5" y2="1379" stroke="#111" stroke-width="1.3" stroke-dasharray="6 3.6"/>
<path d="M402.7 1326.3 L386 1307.5" stroke="#000" stroke-width="3.1" fill="none"/>
<path d="M378.4 1299.4 L397.5 1305.6 L387.6 1309.4 L385.2 1319.6 Z" fill="#000"/>
<text x="176.3" y="1365.7" font-size="39.3" fill="#000" text-anchor="start" font-weight="normal" stroke="#000" stroke-width="0.9" >3-cm</text>
<text x="176.5" y="1410.8" font-size="39.3" fill="#000" text-anchor="start" font-weight="normal" stroke="#000" stroke-width="0.9" >depth</text>
<text x="633.7" y="1365.7" font-size="39.3" fill="#000" text-anchor="end" font-weight="normal" stroke="#000" stroke-width="0.9" >Phased-array</text>
<text x="634.8" y="1411.5" font-size="39.3" fill="#000" text-anchor="end" font-weight="normal" stroke="#000" stroke-width="0.9" >device</text>
<rect x="127.2" y="1038.0" width="749.0999999999999" height="600.2" fill="none" stroke="#7d7d7d" stroke-width="1.4"/>
<path d="M127.2 1038.0 V1638.2 H876.3" fill="none" stroke="#333" stroke-width="1.5"/>
<line x1="127.2" y1="1529.2" x2="137.7" y2="1529.2" stroke="#333" stroke-width="1.4"/>
<line x1="127.2" y1="1420.1" x2="137.7" y2="1420.1" stroke="#333" stroke-width="1.4"/>
<line x1="127.2" y1="1311.1" x2="137.7" y2="1311.1" stroke="#333" stroke-width="1.4"/>
<line x1="127.2" y1="1202.0" x2="137.7" y2="1202.0" stroke="#333" stroke-width="1.4"/>
<line x1="127.2" y1="1093.0" x2="137.7" y2="1093.0" stroke="#333" stroke-width="1.4"/>
<text x="112.5" y="1655.5" font-size="39.3" fill="#000" text-anchor="end" font-weight="normal" stroke="#000" stroke-width="0.9" >0.0</text>
<text x="112.5" y="1546.7" font-size="39.3" fill="#000" text-anchor="end" font-weight="normal" stroke="#000" stroke-width="0.9" >0.2</text>
<text x="112.5" y="1438.0" font-size="39.3" fill="#000" text-anchor="end" font-weight="normal" stroke="#000" stroke-width="0.9" >0.4</text>
<text x="112.5" y="1329.2" font-size="39.3" fill="#000" text-anchor="end" font-weight="normal" stroke="#000" stroke-width="0.9" >0.6</text>
<text x="112.5" y="1220.5" font-size="39.3" fill="#000" text-anchor="end" font-weight="normal" stroke="#000" stroke-width="0.9" >0.8</text>
<text x="112.5" y="1111.7" font-size="39.3" fill="#000" text-anchor="end" font-weight="normal" stroke="#000" stroke-width="0.9" >1.0</text>
<line x1="154.5" y1="1638.2" x2="154.5" y2="1626.2" stroke="#333" stroke-width="1.4"/>
<text x="154.5" y="1685.2" font-size="39.3" fill="#000" text-anchor="middle" font-weight="normal" stroke="#000" stroke-width="0.9" >0</text>
<line x1="293.2" y1="1638.2" x2="293.2" y2="1626.2" stroke="#333" stroke-width="1.4"/>
<text x="293.2" y="1685.2" font-size="39.3" fill="#000" text-anchor="middle" font-weight="normal" stroke="#000" stroke-width="0.9" >5</text>
<line x1="431.9" y1="1638.2" x2="431.9" y2="1626.2" stroke="#333" stroke-width="1.4"/>
<text x="431.9" y="1685.2" font-size="39.3" fill="#000" text-anchor="middle" font-weight="normal" stroke="#000" stroke-width="0.9" >10</text>
<line x1="570.6" y1="1638.2" x2="570.6" y2="1626.2" stroke="#333" stroke-width="1.4"/>
<text x="570.6" y="1685.2" font-size="39.3" fill="#000" text-anchor="middle" font-weight="normal" stroke="#000" stroke-width="0.9" >15</text>
<line x1="709.3" y1="1638.2" x2="709.3" y2="1626.2" stroke="#333" stroke-width="1.4"/>
<text x="709.3" y="1685.2" font-size="39.3" fill="#000" text-anchor="middle" font-weight="normal" stroke="#000" stroke-width="0.9" >20</text>
<line x1="848.0" y1="1638.2" x2="848.0" y2="1626.2" stroke="#333" stroke-width="1.4"/>
<text x="848.0" y="1685.2" font-size="39.3" fill="#000" text-anchor="middle" font-weight="normal" stroke="#000" stroke-width="0.9" >25</text>
<text x="501.5" y="1728.2" font-size="39.3" fill="#000" text-anchor="middle" font-weight="normal" stroke="#000" stroke-width="0.9" >Steering angle (°)</text>
<text transform="translate(41.2,1373) rotate(-90)" font-size="39.45" stroke="#000" stroke-width="0.9" text-anchor="middle">Normalized intensity</text>
<path d="M154.5 1174.2 C200.7 1179.3 247.0 1184.3 293.2 1198.2 C339.4 1212.1 385.7 1234.9 431.9 1250.0 C478.1 1265.2 524.4 1272.8 570.6 1297.5 C616.8 1322.1 663.1 1363.9 709.3 1396.1 C755.5 1428.3 801.8 1450.9 848.0 1473.5" fill="none" stroke="#e9b82f" stroke-width="2.1"/>
<path d="M154.5 1093.0 C200.7 1121.1 247.0 1149.2 293.2 1168.2 C339.4 1187.3 385.7 1197.4 431.9 1208.8 C478.1 1220.2 524.4 1233.0 570.6 1250.6 C616.8 1268.1 663.1 1290.4 709.3 1310.5 C755.5 1330.7 801.8 1348.7 848.0 1366.7" fill="none" stroke="#2c6ea9" stroke-width="2.1"/>
<path d="M154.5 1169.6 L158.7 1176.8 L150.3 1176.8 Z" fill="#fffaf0" stroke="#edc869" stroke-width="1"/>
<path d="M293.2 1193.6 L297.4 1200.8 L289.0 1200.8 Z" fill="#fffaf0" stroke="#edc869" stroke-width="1"/>
<path d="M431.9 1245.4 L436.1 1252.6 L427.7 1252.6 Z" fill="#fffaf0" stroke="#edc869" stroke-width="1"/>
<path d="M570.6 1292.9 L574.8 1300.0 L566.4 1300.0 Z" fill="#fffaf0" stroke="#edc869" stroke-width="1"/>
<path d="M709.3 1391.5 L713.5 1398.7 L705.1 1398.7 Z" fill="#fffaf0" stroke="#edc869" stroke-width="1"/>
<path d="M848.0 1468.9 L852.2 1476.1 L843.8 1476.1 Z" fill="#fffaf0" stroke="#edc869" stroke-width="1"/>
<circle cx="154.5" cy="1093.0" r="3.4" fill="#fff" stroke="#7ea3c6" stroke-width="1"/>
<circle cx="293.2" cy="1168.2" r="3.4" fill="#fff" stroke="#7ea3c6" stroke-width="1"/>
<circle cx="431.9" cy="1208.8" r="3.4" fill="#fff" stroke="#7ea3c6" stroke-width="1"/>
<circle cx="570.6" cy="1250.6" r="3.4" fill="#fff" stroke="#7ea3c6" stroke-width="1"/>
<circle cx="709.3" cy="1310.5" r="3.4" fill="#fff" stroke="#7ea3c6" stroke-width="1"/>
<circle cx="848.0" cy="1366.7" r="3.4" fill="#fff" stroke="#7ea3c6" stroke-width="1"/>
<line x1="466.7" y1="1094.4" x2="552.3" y2="1094.4" stroke="#2c6ea9" stroke-width="2.1"/>
<circle cx="509.3" cy="1094.4" r="3.4" fill="#fff" stroke="#7ea3c6" stroke-width="1"/>
<line x1="466.7" y1="1147.8" x2="552.3" y2="1147.8" stroke="#e9b82f" stroke-width="2.1"/>
<path d="M509.3 1143.2 L513.5 1150.4 L505.1 1150.4 Z" fill="#fffaf0" stroke="#edc869" stroke-width="1"/>
<text x="571.5" y="1111.5" font-size="39.3" fill="#000" text-anchor="start" font-weight="normal" stroke="#000" stroke-width="0.9" >On planar</text>
<text x="571.5" y="1165" font-size="39.3" fill="#000" text-anchor="start" font-weight="normal" stroke="#000" stroke-width="0.9" >On curve</text>
<text x="20.6" y="1038" font-size="40" fill="#000" text-anchor="start" font-weight="bold" stroke="#000" stroke-width="0.3" >c</text>
</g>
<g id="panel-d">
<rect x="154.0" y="1938.1" width="42.6" height="376.1" fill="#548dc6"/>
<rect x="196.4" y="1914.1" width="43.4" height="400.1" fill="#edb30d"/>
<rect x="275.3" y="1906.1" width="42.6" height="408.1" fill="#548dc6"/>
<rect x="317.7" y="1898.1" width="43.4" height="416.1" fill="#edb30d"/>
<rect x="396.5" y="1906.1" width="42.6" height="408.1" fill="#548dc6"/>
<rect x="438.9" y="1906.1" width="43.4" height="408.1" fill="#edb30d"/>
<rect x="517.8" y="1922.1" width="42.6" height="392.1" fill="#548dc6"/>
<rect x="560.2" y="1922.1" width="43.4" height="392.1" fill="#edb30d"/>
<rect x="639.1" y="1914.1" width="42.6" height="400.1" fill="#548dc6"/>
<rect x="681.5" y="1906.1" width="43.4" height="408.1" fill="#edb30d"/>
<rect x="760.4" y="1938.1" width="42.6" height="376.1" fill="#548dc6"/>
<rect x="802.8" y="1914.1" width="43.4" height="400.1" fill="#edb30d"/>
<rect x="124.8" y="1786.7" width="751.2" height="527.4999999999998" fill="none" stroke="#6a6a6a" stroke-width="1.3"/>
<path d="M124.8 1786.7 V2314.2" fill="none" stroke="#444" stroke-width="1.3"/>
<path d="M124.2 2314.2 H876.6" fill="none" stroke="#222" stroke-width="1.7"/>
<line x1="124.8" y1="2234.2" x2="135.3" y2="2234.2" stroke="#333" stroke-width="1.4"/>
<line x1="124.8" y1="2154.1" x2="135.3" y2="2154.1" stroke="#333" stroke-width="1.4"/>
<line x1="124.8" y1="2074.1" x2="135.3" y2="2074.1" stroke="#333" stroke-width="1.4"/>
<line x1="124.8" y1="1994.1" x2="135.3" y2="1994.1" stroke="#333" stroke-width="1.4"/>
<line x1="124.8" y1="1914.1" x2="135.3" y2="1914.1" stroke="#333" stroke-width="1.4"/>
<line x1="124.8" y1="1834.0" x2="135.3" y2="1834.0" stroke="#333" stroke-width="1.4"/>
<text x="112" y="2330.8" font-size="39.3" fill="#000" text-anchor="end" font-weight="normal" stroke="#000" stroke-width="0.9" >0.0</text>
<text x="112" y="2250.9" font-size="39.3" fill="#000" text-anchor="end" font-weight="normal" stroke="#000" stroke-width="0.9" >0.5</text>
<text x="112" y="2171.1" font-size="39.3" fill="#000" text-anchor="end" font-weight="normal" stroke="#000" stroke-width="0.9" >1.0</text>
<text x="112" y="2091.2" font-size="39.3" fill="#000" text-anchor="end" font-weight="normal" stroke="#000" stroke-width="0.9" >1.5</text>
<text x="112" y="2011.4" font-size="39.3" fill="#000" text-anchor="end" font-weight="normal" stroke="#000" stroke-width="0.9" >2.0</text>
<text x="112" y="1931.5" font-size="39.3" fill="#000" text-anchor="end" font-weight="normal" stroke="#000" stroke-width="0.9" >2.5</text>
<text x="112" y="1851.7" font-size="39.3" fill="#000" text-anchor="end" font-weight="normal" stroke="#000" stroke-width="0.9" >3.0</text>
<text x="197.0" y="2357.8" font-size="39.3" fill="#000" text-anchor="middle" font-weight="normal" stroke="#000" stroke-width="0.9" >0</text>
<text x="318.3" y="2357.8" font-size="39.3" fill="#000" text-anchor="middle" font-weight="normal" stroke="#000" stroke-width="0.9" >5</text>
<text x="439.5" y="2357.8" font-size="39.3" fill="#000" text-anchor="middle" font-weight="normal" stroke="#000" stroke-width="0.9" >10</text>
<text x="560.8" y="2357.8" font-size="39.3" fill="#000" text-anchor="middle" font-weight="normal" stroke="#000" stroke-width="0.9" >15</text>
<text x="682.1" y="2357.8" font-size="39.3" fill="#000" text-anchor="middle" font-weight="normal" stroke="#000" stroke-width="0.9" >20</text>
<text x="803.4" y="2357.8" font-size="39.3" fill="#000" text-anchor="middle" font-weight="normal" stroke="#000" stroke-width="0.9" >25</text>
<text x="491.5" y="2398.6" font-size="39.3" fill="#000" text-anchor="middle" font-weight="normal" stroke="#000" stroke-width="0.9" >Steering angle (°)</text>
<text transform="translate(40.3,2076.3) rotate(-90)" font-size="39.8" stroke="#000" stroke-width="0.9" text-anchor="middle">−3 dB half angle (°)</text>
<rect x="182.8" y="1817" width="64.8" height="40" fill="#548dc6"/>
<rect x="497.4" y="1817" width="65.6" height="40" fill="#edb30d"/>
<text x="255" y="1853.6" font-size="39.3" fill="#000" text-anchor="start" font-weight="normal" stroke="#000" stroke-width="0.9" >Planar</text>
<text x="568.5" y="1854.3" font-size="39.3" fill="#000" text-anchor="start" font-weight="normal" stroke="#000" stroke-width="0.9" >Curvilinear</text>
<text x="20.6" y="1798.6" font-size="40" fill="#000" text-anchor="start" font-weight="bold" stroke="#000" stroke-width="0.3" >d</text>
</g>
<g id="panel-b">
<rect x="959.6" y="90.6" width="353.8" height="354.1" fill="#4e40bc"/>
<g clip-path="url(#cl00)"><g transform="translate(959.6,90.6)">
<polygon points="156.9,-24.0 156.7,-11.0 156.6,2.0 156.4,15.0 156.3,28.0 156.1,41.0 156.0,54.0 155.8,67.0 155.7,80.0 155.5,93.0 155.4,106.0 155.3,119.0 155.1,132.0 155.0,145.0 154.8,158.0 154.7,171.0 154.5,184.0 154.4,197.0 154.2,210.0 154.1,223.0 153.9,236.0 153.8,249.0 153.6,262.0 153.5,275.0 153.3,288.0 153.2,301.0 153.1,314.0 152.9,327.0 152.8,340.0 152.6,353.0 152.5,366.0 152.3,379.0 202.9,379.0 202.7,366.0 202.6,353.0 202.4,340.0 202.3,327.0 202.1,314.0 202.0,301.0 201.9,288.0 201.7,275.0 201.6,262.0 201.4,249.0 201.3,236.0 201.1,223.0 201.0,210.0 200.8,197.0 200.7,184.0 200.5,171.0 200.4,158.0 200.2,145.0 200.1,132.0 199.9,119.0 199.8,106.0 199.7,93.0 199.5,80.0 199.4,67.0 199.2,54.0 199.1,41.0 198.9,28.0 198.8,15.0 198.6,2.0 198.5,-11.0 198.3,-24.0" fill="url(#lg1)" filter="url(#fb5)"/>
<polygon points="156.8,-24.0 156.4,-11.0 156.0,2.0 155.7,15.0 155.3,28.0 154.9,41.0 154.5,54.0 154.1,67.0 153.7,80.0 153.3,93.0 153.0,106.0 152.6,119.0 152.2,132.0 151.8,145.0 151.4,158.0 151.0,171.0 150.6,184.0 150.3,197.0 149.9,210.0 149.5,223.0 149.1,236.0 148.7,249.0 148.3,262.0 147.9,275.0 147.6,288.0 147.2,301.0 146.8,314.0 146.4,327.0 146.0,340.0 145.6,353.0 145.2,366.0 144.9,379.0 153.1,379.0 153.3,366.0 153.6,353.0 153.9,340.0 154.2,327.0 154.4,314.0 154.7,301.0 155.0,288.0 155.3,275.0 155.5,262.0 155.8,249.0 156.1,236.0 156.4,223.0 156.7,210.0 156.9,197.0 157.2,184.0 157.5,171.0 157.8,158.0 158.0,145.0 158.3,132.0 158.6,119.0 158.9,106.0 159.1,93.0 159.4,80.0 159.7,67.0 160.0,54.0 160.2,41.0 160.5,28.0 160.8,15.0 161.1,2.0 161.3,-11.0 161.6,-24.0" fill="url(#lg2)" filter="url(#fb3)"/>
<polygon points="193.6,-24.0 193.9,-11.0 194.1,2.0 194.4,15.0 194.7,28.0 195.0,41.0 195.2,54.0 195.5,67.0 195.8,80.0 196.1,93.0 196.3,106.0 196.6,119.0 196.9,132.0 197.2,145.0 197.4,158.0 197.7,171.0 198.0,184.0 198.3,197.0 198.5,210.0 198.8,223.0 199.1,236.0 199.4,249.0 199.7,262.0 199.9,275.0 200.2,288.0 200.5,301.0 200.8,314.0 201.0,327.0 201.3,340.0 201.6,353.0 201.9,366.0 202.1,379.0 210.3,379.0 210.0,366.0 209.6,353.0 209.2,340.0 208.8,327.0 208.4,314.0 208.0,301.0 207.6,288.0 207.3,275.0 206.9,262.0 206.5,249.0 206.1,236.0 205.7,223.0 205.3,210.0 204.9,197.0 204.6,184.0 204.2,171.0 203.8,158.0 203.4,145.0 203.0,132.0 202.6,119.0 202.2,106.0 201.9,93.0 201.5,80.0 201.1,67.0 200.7,54.0 200.3,41.0 199.9,28.0 199.5,15.0 199.2,2.0 198.8,-11.0 198.4,-24.0" fill="url(#lg3)" filter="url(#fb3)"/>
<polygon points="165.8,-24.0 165.7,-11.0 165.6,2.0 165.5,15.0 165.4,28.0 165.3,41.0 165.1,54.0 165.0,67.0 164.9,80.0 164.8,93.0 164.7,106.0 164.6,119.0 164.5,132.0 164.4,145.0 164.3,158.0 164.2,171.0 164.0,184.0 163.9,197.0 163.8,210.0 163.7,223.0 163.6,236.0 163.5,249.0 163.4,262.0 163.3,275.0 163.2,288.0 163.0,301.0 162.9,314.0 162.8,327.0 162.7,340.0 162.6,353.0 162.5,366.0 162.4,379.0 192.8,379.0 192.7,366.0 192.6,353.0 192.5,340.0 192.4,327.0 192.3,314.0 192.2,301.0 192.0,288.0 191.9,275.0 191.8,262.0 191.7,249.0 191.6,236.0 191.5,223.0 191.4,210.0 191.3,197.0 191.2,184.0 191.0,171.0 190.9,158.0 190.8,145.0 190.7,132.0 190.6,119.0 190.5,106.0 190.4,93.0 190.3,80.0 190.2,67.0 190.1,54.0 189.9,41.0 189.8,28.0 189.7,15.0 189.6,2.0 189.5,-11.0 189.4,-24.0" fill="url(#lg4)" filter="url(#fb3)"/>
<polygon points="174.3,-24.0 174.2,-11.0 174.1,2.0 174.0,15.0 173.8,28.0 173.7,41.0 173.6,54.0 173.4,67.0 173.3,80.0 173.2,93.0 173.1,106.0 172.9,119.0 172.8,132.0 172.7,145.0 172.5,158.0 172.4,171.0 172.3,184.0 172.2,197.0 172.0,210.0 171.9,223.0 171.8,236.0 171.6,249.0 171.5,262.0 171.4,275.0 171.3,288.0 171.1,301.0 171.0,314.0 170.9,327.0 170.7,340.0 170.6,353.0 170.5,366.0 170.4,379.0 184.8,379.0 184.7,366.0 184.6,353.0 184.5,340.0 184.3,327.0 184.2,314.0 184.1,301.0 183.9,288.0 183.8,275.0 183.7,262.0 183.6,249.0 183.4,236.0 183.3,223.0 183.2,210.0 183.0,197.0 182.9,184.0 182.8,171.0 182.7,158.0 182.5,145.0 182.4,132.0 182.3,119.0 182.1,106.0 182.0,93.0 181.9,80.0 181.8,67.0 181.6,54.0 181.5,41.0 181.4,28.0 181.2,15.0 181.1,2.0 181.0,-11.0 180.9,-24.0" fill="url(#lg5)" filter="url(#fb1)"/>
<polygon transform="translate(213.0,0) rotate(-1.2)" points="-3.4,-40 3.4,-40 4.6,440 -4.6,440" fill="url(#lg6)" filter="url(#fb3)"/>
<polygon transform="translate(143.0,0) rotate(1.2)" points="-3.4,-40 3.4,-40 4.6,440 -4.6,440" fill="url(#lg7)" filter="url(#fb3)"/>
</g></g>
<rect x="959.6" y="456.7" width="353.8" height="353.9" fill="#4e40bc"/>
<g clip-path="url(#cl01)"><g transform="translate(959.6,456.7)">
<polygon points="146.2,-24.0 145.0,-11.0 143.8,2.0 142.6,15.0 141.5,28.0 140.3,41.0 139.1,54.0 137.9,67.0 136.7,80.0 135.5,93.0 134.3,106.0 133.1,119.0 131.9,132.0 130.7,145.0 129.5,158.0 128.3,171.0 127.1,184.0 125.9,197.0 124.7,210.0 123.5,223.0 122.3,236.0 121.1,249.0 119.9,262.0 118.7,275.0 117.5,288.0 116.3,301.0 115.1,314.0 113.9,327.0 112.7,340.0 111.5,353.0 110.3,366.0 109.1,379.0 159.8,379.0 160.7,366.0 161.6,353.0 162.6,340.0 163.5,327.0 164.4,314.0 165.3,301.0 166.2,288.0 167.1,275.0 168.0,262.0 168.9,249.0 169.8,236.0 170.7,223.0 171.6,210.0 172.5,197.0 173.4,184.0 174.3,171.0 175.2,158.0 176.1,145.0 177.0,132.0 177.9,119.0 178.8,106.0 179.7,93.0 180.6,80.0 181.5,67.0 182.4,54.0 183.3,41.0 184.2,28.0 185.1,15.0 186.0,2.0 186.9,-11.0 187.8,-24.0" fill="url(#lg8)" filter="url(#fb5)"/>
<polygon points="146.2,-24.0 144.8,-11.0 143.4,2.0 141.9,15.0 140.5,28.0 139.1,41.0 137.6,54.0 136.2,67.0 134.8,80.0 133.3,93.0 131.9,106.0 130.4,119.0 129.0,132.0 127.6,145.0 126.1,158.0 124.7,171.0 123.3,184.0 121.8,197.0 120.4,210.0 119.0,223.0 117.5,236.0 116.1,249.0 114.6,262.0 113.2,275.0 111.8,288.0 110.3,301.0 108.9,314.0 107.5,327.0 106.0,340.0 104.6,353.0 103.2,366.0 101.7,379.0 110.0,379.0 111.3,366.0 112.6,353.0 113.9,340.0 115.3,327.0 116.6,314.0 117.9,301.0 119.2,288.0 120.6,275.0 121.9,262.0 123.2,249.0 124.5,236.0 125.9,223.0 127.2,210.0 128.5,197.0 129.8,184.0 131.2,171.0 132.5,158.0 133.8,145.0 135.1,132.0 136.5,119.0 137.8,106.0 139.1,93.0 140.5,80.0 141.8,67.0 143.1,54.0 144.4,41.0 145.8,28.0 147.1,15.0 148.4,2.0 149.7,-11.0 151.1,-24.0" fill="url(#lg9)" filter="url(#fb3)"/>
<polygon points="183.0,-24.0 182.2,-11.0 181.5,2.0 180.7,15.0 179.9,28.0 179.1,41.0 178.4,54.0 177.6,67.0 176.8,80.0 176.0,93.0 175.3,106.0 174.5,119.0 173.7,132.0 172.9,145.0 172.2,158.0 171.4,171.0 170.6,184.0 169.8,197.0 169.1,210.0 168.3,223.0 167.5,236.0 166.7,249.0 166.0,262.0 165.2,275.0 164.4,288.0 163.6,301.0 162.9,314.0 162.1,327.0 161.3,340.0 160.5,353.0 159.8,366.0 159.0,379.0 167.2,379.0 167.9,366.0 168.6,353.0 169.2,340.0 169.9,327.0 170.6,314.0 171.2,301.0 171.9,288.0 172.5,275.0 173.2,262.0 173.9,249.0 174.5,236.0 175.2,223.0 175.9,210.0 176.5,197.0 177.2,184.0 177.9,171.0 178.5,158.0 179.2,145.0 179.9,132.0 180.5,119.0 181.2,106.0 181.9,93.0 182.5,80.0 183.2,67.0 183.8,54.0 184.5,41.0 185.2,28.0 185.8,15.0 186.5,2.0 187.2,-11.0 187.8,-24.0" fill="url(#lg10)" filter="url(#fb3)"/>
<polygon points="155.2,-24.0 154.0,-11.0 152.9,2.0 151.7,15.0 150.6,28.0 149.4,41.0 148.2,54.0 147.1,67.0 145.9,80.0 144.8,93.0 143.6,106.0 142.4,119.0 141.3,132.0 140.1,145.0 139.0,158.0 137.8,171.0 136.6,184.0 135.5,197.0 134.3,210.0 133.1,223.0 132.0,236.0 130.8,249.0 129.7,262.0 128.5,275.0 127.3,288.0 126.2,301.0 125.0,314.0 123.9,327.0 122.7,340.0 121.5,353.0 120.4,366.0 119.2,379.0 149.7,379.0 150.7,366.0 151.6,353.0 152.6,340.0 153.5,327.0 154.4,314.0 155.4,301.0 156.3,288.0 157.3,275.0 158.2,262.0 159.1,249.0 160.1,236.0 161.0,223.0 162.0,210.0 162.9,197.0 163.8,184.0 164.8,171.0 165.7,158.0 166.7,145.0 167.6,132.0 168.5,119.0 169.5,106.0 170.4,93.0 171.4,80.0 172.3,67.0 173.2,54.0 174.2,41.0 175.1,28.0 176.1,15.0 177.0,2.0 177.9,-11.0 178.9,-24.0" fill="url(#lg11)" filter="url(#fb3)"/>
<ellipse cx="165.1" cy="0" rx="20" ry="16" fill="#1fb8c0" fill-opacity="0.85" filter="url(#fb5)"/>
<polygon points="163.8,-24.0 162.6,-11.0 161.4,2.0 160.2,15.0 159.0,28.0 157.9,41.0 156.7,54.0 155.5,67.0 154.3,80.0 153.2,93.0 152.0,106.0 150.8,119.0 149.6,132.0 148.4,145.0 147.3,158.0 146.1,171.0 144.9,184.0 143.7,197.0 142.5,210.0 141.4,223.0 140.2,236.0 139.0,249.0 137.8,262.0 136.6,275.0 135.5,288.0 134.3,301.0 133.1,314.0 131.9,327.0 130.7,340.0 129.6,353.0 128.4,366.0 127.2,379.0 141.7,379.0 142.7,366.0 143.6,353.0 144.5,340.0 145.4,327.0 146.4,314.0 147.3,301.0 148.2,288.0 149.1,275.0 150.0,262.0 151.0,249.0 151.9,236.0 152.8,223.0 153.7,210.0 154.6,197.0 155.6,184.0 156.5,171.0 157.4,158.0 158.3,145.0 159.3,132.0 160.2,119.0 161.1,106.0 162.0,93.0 162.9,80.0 163.9,67.0 164.8,54.0 165.7,41.0 166.6,28.0 167.5,15.0 168.5,2.0 169.4,-11.0 170.3,-24.0" fill="url(#lg12)" filter="url(#fb1)"/>
<polygon transform="translate(203.0,0) rotate(-4)" points="-3.9,-40 3.9,-40 5.1,440 -5.1,440" fill="url(#lg13)" filter="url(#fb3)"/>
</g></g>
<rect x="959.6" y="823.4" width="353.8" height="353.6" fill="#4e40bc"/>
<g clip-path="url(#cl02)"><g transform="translate(959.6,823.4)">
<polygon points="140.4,-24.0 137.8,-11.0 135.2,2.0 132.7,15.0 130.1,28.0 127.5,41.0 125.0,54.0 122.4,67.0 119.8,80.0 117.3,93.0 114.7,106.0 112.1,119.0 109.6,132.0 107.0,145.0 104.4,158.0 101.9,171.0 99.3,184.0 96.7,197.0 94.2,210.0 91.6,223.0 89.0,236.0 86.5,249.0 83.9,262.0 81.3,275.0 78.8,288.0 76.2,301.0 73.6,314.0 71.1,327.0 68.5,340.0 65.9,353.0 63.4,366.0 60.8,379.0 112.2,379.0 114.5,366.0 116.8,353.0 119.0,340.0 121.3,327.0 123.6,314.0 125.8,301.0 128.1,288.0 130.4,275.0 132.6,262.0 134.9,249.0 137.2,236.0 139.4,223.0 141.7,210.0 144.0,197.0 146.3,184.0 148.5,171.0 150.8,158.0 153.1,145.0 155.3,132.0 157.6,119.0 159.9,106.0 162.1,93.0 164.4,80.0 166.7,67.0 168.9,54.0 171.2,41.0 173.5,28.0 175.7,15.0 178.0,2.0 180.3,-11.0 182.5,-24.0" fill="url(#lg14)" filter="url(#fb5)"/>
<polygon points="140.6,-24.0 137.8,-11.0 135.0,2.0 132.2,15.0 129.4,28.0 126.6,41.0 123.8,54.0 121.0,67.0 118.2,80.0 115.4,93.0 112.6,106.0 109.8,119.0 107.0,132.0 104.2,145.0 101.4,158.0 98.6,171.0 95.8,184.0 93.0,197.0 90.2,210.0 87.3,223.0 84.5,236.0 81.7,249.0 78.9,262.0 76.1,275.0 73.3,288.0 70.5,301.0 67.7,314.0 64.9,327.0 62.1,340.0 59.3,353.0 56.5,366.0 53.7,379.0 62.0,379.0 64.7,366.0 67.4,353.0 70.1,340.0 72.8,327.0 75.5,314.0 78.2,301.0 80.9,288.0 83.6,275.0 86.3,262.0 89.0,249.0 91.7,236.0 94.4,223.0 97.0,210.0 99.7,197.0 102.4,184.0 105.1,171.0 107.8,158.0 110.5,145.0 113.2,132.0 115.9,119.0 118.6,106.0 121.3,93.0 124.0,80.0 126.7,67.0 129.4,54.0 132.1,41.0 134.7,28.0 137.4,15.0 140.1,2.0 142.8,-11.0 145.5,-24.0" fill="url(#lg15)" filter="url(#fb3)"/>
<polygon points="177.4,-24.0 175.3,-11.0 173.1,2.0 171.0,15.0 168.8,28.0 166.7,41.0 164.6,54.0 162.4,67.0 160.3,80.0 158.1,93.0 156.0,106.0 153.8,119.0 151.7,132.0 149.5,145.0 147.4,158.0 145.3,171.0 143.1,184.0 141.0,197.0 138.8,210.0 136.7,223.0 134.5,236.0 132.4,249.0 130.3,262.0 128.1,275.0 126.0,288.0 123.8,301.0 121.7,314.0 119.5,327.0 117.4,340.0 115.3,353.0 113.1,366.0 111.0,379.0 119.3,379.0 121.3,366.0 123.4,353.0 125.4,340.0 127.4,327.0 129.5,314.0 131.5,301.0 133.5,288.0 135.6,275.0 137.6,262.0 139.6,249.0 141.7,236.0 143.7,223.0 145.7,210.0 147.8,197.0 149.8,184.0 151.8,171.0 153.9,158.0 155.9,145.0 157.9,132.0 159.9,119.0 162.0,106.0 164.0,93.0 166.0,80.0 168.1,67.0 170.1,54.0 172.1,41.0 174.2,28.0 176.2,15.0 178.2,2.0 180.3,-11.0 182.3,-24.0" fill="url(#lg16)" filter="url(#fb3)"/>
<polygon points="149.5,-24.0 146.9,-11.0 144.4,2.0 141.9,15.0 139.3,28.0 136.8,41.0 134.3,54.0 131.8,67.0 129.2,80.0 126.7,93.0 124.2,106.0 121.6,119.0 119.1,132.0 116.6,145.0 114.0,158.0 111.5,171.0 109.0,184.0 106.5,197.0 103.9,210.0 101.4,223.0 98.9,236.0 96.3,249.0 93.8,262.0 91.3,275.0 88.7,288.0 86.2,301.0 83.7,314.0 81.2,327.0 78.6,340.0 76.1,353.0 73.6,366.0 71.0,379.0 102.0,379.0 104.3,366.0 106.6,353.0 108.9,340.0 111.2,327.0 113.5,314.0 115.8,301.0 118.1,288.0 120.4,275.0 122.7,262.0 125.0,249.0 127.3,236.0 129.7,223.0 132.0,210.0 134.3,197.0 136.6,184.0 138.9,171.0 141.2,158.0 143.5,145.0 145.8,132.0 148.1,119.0 150.4,106.0 152.7,93.0 155.0,80.0 157.3,67.0 159.6,54.0 161.9,41.0 164.2,28.0 166.5,15.0 168.9,2.0 171.2,-11.0 173.5,-24.0" fill="url(#lg17)" filter="url(#fb3)"/>
<ellipse cx="157.0" cy="0" rx="14" ry="16" fill="#1fb8c0" fill-opacity="0.85" filter="url(#fb5)"/>
<polygon points="158.1,-24.0 155.6,-11.0 153.0,2.0 150.5,15.0 148.0,28.0 145.4,41.0 142.9,54.0 140.3,67.0 137.8,80.0 135.2,93.0 132.7,106.0 130.1,119.0 127.6,132.0 125.0,145.0 122.5,158.0 119.9,171.0 117.4,184.0 114.8,197.0 112.3,210.0 109.7,223.0 107.2,236.0 104.6,249.0 102.1,262.0 99.5,275.0 97.0,288.0 94.4,301.0 91.9,314.0 89.3,327.0 86.8,340.0 84.2,353.0 81.7,366.0 79.1,379.0 93.9,379.0 96.2,366.0 98.5,353.0 100.7,340.0 103.0,327.0 105.3,314.0 107.6,301.0 109.9,288.0 112.2,275.0 114.5,262.0 116.8,249.0 119.0,236.0 121.3,223.0 123.6,210.0 125.9,197.0 128.2,184.0 130.5,171.0 132.8,158.0 135.0,145.0 137.3,132.0 139.6,119.0 141.9,106.0 144.2,93.0 146.5,80.0 148.8,67.0 151.1,54.0 153.3,41.0 155.6,28.0 157.9,15.0 160.2,2.0 162.5,-11.0 164.8,-24.0" fill="url(#lg18)" filter="url(#fb1)"/>
<polygon transform="translate(197.0,0) rotate(-1)" points="-3.9,-40 3.9,-40 5.1,440 -5.1,440" fill="url(#lg19)" filter="url(#fb3)"/>
<polygon transform="translate(296.0,0) rotate(-38)" points="-6.6,-40 6.6,-40 11.4,440 -11.4,440" fill="url(#lg20)" filter="url(#fb5)"/>
</g></g>
<rect x="959.6" y="1190.2" width="353.8" height="353.7" fill="#4e40bc"/>
<g clip-path="url(#cl03)"><g transform="translate(959.6,1190.2)">
<polygon points="136.4,-24.0 132.6,-11.0 128.8,2.0 125.0,15.0 121.2,28.0 117.3,41.0 113.5,54.0 109.7,67.0 105.9,80.0 102.1,93.0 98.2,106.0 94.4,119.0 90.6,132.0 86.8,145.0 83.0,158.0 79.2,171.0 75.3,184.0 71.5,197.0 67.7,210.0 63.9,223.0 60.1,236.0 56.2,249.0 52.4,262.0 48.6,275.0 44.8,288.0 41.0,301.0 37.1,314.0 33.3,327.0 29.5,340.0 25.7,353.0 21.9,366.0 18.1,379.0 70.6,379.0 74.1,366.0 77.6,353.0 81.1,340.0 84.6,327.0 88.2,314.0 91.7,301.0 95.2,288.0 98.7,275.0 102.2,262.0 105.7,249.0 109.2,236.0 112.8,223.0 116.3,210.0 119.8,197.0 123.3,184.0 126.8,171.0 130.3,158.0 133.8,145.0 137.3,132.0 140.9,119.0 144.4,106.0 147.9,93.0 151.4,80.0 154.9,67.0 158.4,54.0 161.9,41.0 165.5,28.0 169.0,15.0 172.5,2.0 176.0,-11.0 179.5,-24.0" fill="url(#lg21)" filter="url(#fb5)"/>
<polygon points="137.1,-24.0 133.0,-11.0 129.0,2.0 124.9,15.0 120.9,28.0 116.8,41.0 112.8,54.0 108.7,67.0 104.7,80.0 100.6,93.0 96.5,106.0 92.5,119.0 88.4,132.0 84.4,145.0 80.3,158.0 76.3,171.0 72.2,184.0 68.2,197.0 64.1,210.0 60.1,223.0 56.0,236.0 52.0,249.0 47.9,262.0 43.9,275.0 39.8,288.0 35.7,301.0 31.7,314.0 27.6,327.0 23.6,340.0 19.5,353.0 15.5,366.0 11.4,379.0 20.0,379.0 23.9,366.0 27.8,353.0 31.8,340.0 35.7,327.0 39.6,314.0 43.6,301.0 47.5,288.0 51.5,275.0 55.4,262.0 59.3,249.0 63.3,236.0 67.2,223.0 71.2,210.0 75.1,197.0 79.0,184.0 83.0,171.0 86.9,158.0 90.9,145.0 94.8,132.0 98.7,119.0 102.7,106.0 106.6,93.0 110.6,80.0 114.5,67.0 118.4,54.0 122.4,41.0 126.3,28.0 130.3,15.0 134.2,2.0 138.1,-11.0 142.1,-24.0" fill="url(#lg22)" filter="url(#fb3)"/>
<polygon points="173.9,-24.0 170.5,-11.0 167.1,2.0 163.7,15.0 160.3,28.0 156.9,41.0 153.5,54.0 150.1,67.0 146.7,80.0 143.3,93.0 139.9,106.0 136.5,119.0 133.2,132.0 129.8,145.0 126.4,158.0 123.0,171.0 119.6,184.0 116.2,197.0 112.8,210.0 109.4,223.0 106.0,236.0 102.6,249.0 99.2,262.0 95.8,275.0 92.4,288.0 89.0,301.0 85.7,314.0 82.3,327.0 78.9,340.0 75.5,353.0 72.1,366.0 68.7,379.0 77.2,379.0 80.5,366.0 83.8,353.0 87.1,340.0 90.3,327.0 93.6,314.0 96.9,301.0 100.2,288.0 103.4,275.0 106.7,262.0 110.0,249.0 113.3,236.0 116.6,223.0 119.8,210.0 123.1,197.0 126.4,184.0 129.7,171.0 133.0,158.0 136.2,145.0 139.5,132.0 142.8,119.0 146.1,106.0 149.3,93.0 152.6,80.0 155.9,67.0 159.2,54.0 162.5,41.0 165.7,28.0 169.0,15.0 172.3,2.0 175.6,-11.0 178.8,-24.0" fill="url(#lg23)" filter="url(#fb3)"/>
<polygon points="145.7,-24.0 141.9,-11.0 138.2,2.0 134.4,15.0 130.6,28.0 126.8,41.0 123.0,54.0 119.2,67.0 115.5,80.0 111.7,93.0 107.9,106.0 104.1,119.0 100.3,132.0 96.6,145.0 92.8,158.0 89.0,171.0 85.2,184.0 81.4,197.0 77.7,210.0 73.9,223.0 70.1,236.0 66.3,249.0 62.5,262.0 58.8,275.0 55.0,288.0 51.2,301.0 47.4,314.0 43.6,327.0 39.9,340.0 36.1,353.0 32.3,366.0 28.5,379.0 60.1,379.0 63.7,366.0 67.2,353.0 70.8,340.0 74.3,327.0 77.9,314.0 81.4,301.0 85.0,288.0 88.5,275.0 92.1,262.0 95.6,249.0 99.2,236.0 102.7,223.0 106.3,210.0 109.8,197.0 113.4,184.0 117.0,171.0 120.5,158.0 124.1,145.0 127.6,132.0 131.2,119.0 134.7,106.0 138.3,93.0 141.8,80.0 145.4,67.0 148.9,54.0 152.5,41.0 156.0,28.0 159.6,15.0 163.1,2.0 166.7,-11.0 170.2,-24.0" fill="url(#lg24)" filter="url(#fb3)"/>
<polygon points="154.6,-24.0 150.8,-11.0 147.0,2.0 143.2,15.0 139.4,28.0 135.6,41.0 131.8,54.0 128.0,67.0 124.2,80.0 120.4,93.0 116.6,106.0 112.8,119.0 109.0,132.0 105.2,145.0 101.4,158.0 97.6,171.0 93.8,184.0 90.0,197.0 86.2,210.0 82.4,223.0 78.6,236.0 74.8,249.0 71.0,262.0 67.2,275.0 63.4,288.0 59.6,301.0 55.8,314.0 52.0,327.0 48.2,340.0 44.4,353.0 40.6,366.0 36.8,379.0 51.9,379.0 55.4,366.0 58.9,353.0 62.4,340.0 66.0,327.0 69.5,314.0 73.0,301.0 76.6,288.0 80.1,275.0 83.6,262.0 87.2,249.0 90.7,236.0 94.2,223.0 97.8,210.0 101.3,197.0 104.8,184.0 108.4,171.0 111.9,158.0 115.4,145.0 119.0,132.0 122.5,119.0 126.0,106.0 129.6,93.0 133.1,80.0 136.6,67.0 140.2,54.0 143.7,41.0 147.2,28.0 150.8,15.0 154.3,2.0 157.8,-11.0 161.4,-24.0" fill="url(#lg25)" filter="url(#fb1)"/>
<polygon transform="translate(190.0,0) rotate(3)" points="-3.9,-40 3.9,-40 5.1,440 -5.1,440" fill="url(#lg26)" filter="url(#fb3)"/>
<polygon transform="translate(212.0,0) rotate(-3)" points="-3.9,-40 3.9,-40 5.1,440 -5.1,440" fill="url(#lg27)" filter="url(#fb3)"/>
<polygon transform="translate(268.0,0) rotate(-40)" points="-6.6,-40 6.6,-40 11.4,440 -11.4,440" fill="url(#lg28)" filter="url(#fb5)"/>
</g></g>
<rect x="959.6" y="1557.0" width="353.8" height="354.0" fill="#4e40bc"/>
<g clip-path="url(#cl04)"><g transform="translate(959.6,1557.0)">
<polygon points="121.3,-24.0 116.5,-11.0 111.8,2.0 107.1,15.0 102.3,28.0 97.6,41.0 92.9,54.0 88.2,67.0 83.4,80.0 78.7,93.0 74.0,106.0 69.2,119.0 64.5,132.0 59.8,145.0 55.0,158.0 50.3,171.0 45.6,184.0 40.8,197.0 36.1,210.0 31.4,223.0 26.6,236.0 21.9,249.0 17.2,262.0 12.4,275.0 7.7,288.0 3.0,301.0 -1.8,314.0 -6.5,327.0 -11.2,340.0 -15.9,353.0 -20.7,366.0 -25.4,379.0 28.2,379.0 32.6,366.0 37.0,353.0 41.5,340.0 45.9,327.0 50.3,314.0 54.7,301.0 59.1,288.0 63.6,275.0 68.0,262.0 72.4,249.0 76.8,236.0 81.2,223.0 85.7,210.0 90.1,197.0 94.5,184.0 98.9,171.0 103.3,158.0 107.8,145.0 112.2,132.0 116.6,119.0 121.0,106.0 125.4,93.0 129.9,80.0 134.3,67.0 138.7,54.0 143.1,41.0 147.5,28.0 152.0,15.0 156.4,2.0 160.8,-11.0 165.2,-24.0" fill="url(#lg29)" filter="url(#fb5)"/>
<polygon points="122.3,-24.0 117.4,-11.0 112.4,2.0 107.4,15.0 102.5,28.0 97.5,41.0 92.5,54.0 87.6,67.0 82.6,80.0 77.6,93.0 72.7,106.0 67.7,119.0 62.7,132.0 57.8,145.0 52.8,158.0 47.8,171.0 42.9,184.0 37.9,197.0 32.9,210.0 28.0,223.0 23.0,236.0 18.1,249.0 13.1,262.0 8.1,275.0 3.2,288.0 -1.8,301.0 -6.8,314.0 -11.7,327.0 -16.7,340.0 -21.7,353.0 -26.6,366.0 -31.6,379.0 -22.9,379.0 -18.0,366.0 -13.2,353.0 -8.3,340.0 -3.5,327.0 1.3,314.0 6.2,301.0 11.0,288.0 15.9,275.0 20.7,262.0 25.6,249.0 30.4,236.0 35.3,223.0 40.1,210.0 45.0,197.0 49.8,184.0 54.7,171.0 59.5,158.0 64.4,145.0 69.2,132.0 74.1,119.0 78.9,106.0 83.8,93.0 88.6,80.0 93.5,67.0 98.3,54.0 103.2,41.0 108.0,28.0 112.9,15.0 117.7,2.0 122.6,-11.0 127.4,-24.0" fill="url(#lg30)" filter="url(#fb3)"/>
<polygon points="159.1,-24.0 154.8,-11.0 150.5,2.0 146.2,15.0 141.9,28.0 137.6,41.0 133.3,54.0 129.0,67.0 124.7,80.0 120.4,93.0 116.1,106.0 111.8,119.0 107.4,132.0 103.1,145.0 98.8,158.0 94.5,171.0 90.2,184.0 85.9,197.0 81.6,210.0 77.3,223.0 73.0,236.0 68.7,249.0 64.4,262.0 60.1,275.0 55.8,288.0 51.5,301.0 47.2,314.0 42.9,327.0 38.6,340.0 34.3,353.0 30.0,366.0 25.7,379.0 34.4,379.0 38.6,366.0 42.8,353.0 46.9,340.0 51.1,327.0 55.3,314.0 59.5,301.0 63.7,288.0 67.9,275.0 72.1,262.0 76.3,249.0 80.4,236.0 84.6,223.0 88.8,210.0 93.0,197.0 97.2,184.0 101.4,171.0 105.6,158.0 109.7,145.0 113.9,132.0 118.1,119.0 122.3,106.0 126.5,93.0 130.7,80.0 134.9,67.0 139.1,54.0 143.2,41.0 147.4,28.0 151.6,15.0 155.8,2.0 160.0,-11.0 164.2,-24.0" fill="url(#lg31)" filter="url(#fb3)"/>
<polygon points="130.7,-24.0 126.0,-11.0 121.4,2.0 116.7,15.0 112.0,28.0 107.3,41.0 102.6,54.0 97.9,67.0 93.2,80.0 88.5,93.0 83.8,106.0 79.1,119.0 74.4,132.0 69.7,145.0 65.0,158.0 60.3,171.0 55.7,184.0 51.0,197.0 46.3,210.0 41.6,223.0 36.9,236.0 32.2,249.0 27.5,262.0 22.8,275.0 18.1,288.0 13.4,301.0 8.7,314.0 4.0,327.0 -0.7,340.0 -5.3,353.0 -10.0,366.0 -14.7,379.0 17.5,379.0 22.0,366.0 26.4,353.0 30.9,340.0 35.4,327.0 39.8,314.0 44.3,301.0 48.7,288.0 53.2,275.0 57.7,262.0 62.1,249.0 66.6,236.0 71.0,223.0 75.5,210.0 79.9,197.0 84.4,184.0 88.9,171.0 93.3,158.0 97.8,145.0 102.2,132.0 106.7,119.0 111.2,106.0 115.6,93.0 120.1,80.0 124.5,67.0 129.0,54.0 133.5,41.0 137.9,28.0 142.4,15.0 146.8,2.0 151.3,-11.0 155.8,-24.0" fill="url(#lg32)" filter="url(#fb3)"/>
<polygon points="139.8,-24.0 135.1,-11.0 130.4,2.0 125.7,15.0 120.9,28.0 116.2,41.0 111.5,54.0 106.8,67.0 102.1,80.0 97.4,93.0 92.7,106.0 88.0,119.0 83.2,132.0 78.5,145.0 73.8,158.0 69.1,171.0 64.4,184.0 59.7,197.0 55.0,210.0 50.3,223.0 45.5,236.0 40.8,249.0 36.1,262.0 31.4,275.0 26.7,288.0 22.0,301.0 17.3,314.0 12.6,327.0 7.8,340.0 3.1,353.0 -1.6,366.0 -6.3,379.0 9.1,379.0 13.5,366.0 18.0,353.0 22.4,340.0 26.8,327.0 31.3,314.0 35.7,301.0 40.2,288.0 44.6,275.0 49.0,262.0 53.5,249.0 57.9,236.0 62.4,223.0 66.8,210.0 71.2,197.0 75.7,184.0 80.1,171.0 84.6,158.0 89.0,145.0 93.4,132.0 97.9,119.0 102.3,106.0 106.7,93.0 111.2,80.0 115.6,67.0 120.1,54.0 124.5,41.0 128.9,28.0 133.4,15.0 137.8,2.0 142.3,-11.0 146.7,-24.0" fill="url(#lg33)" filter="url(#fb1)"/>
<polygon transform="translate(176.0,0) rotate(8)" points="-3.9,-40 3.9,-40 5.1,440 -5.1,440" fill="url(#lg34)" filter="url(#fb3)"/>
<polygon transform="translate(198.0,0) rotate(2)" points="-3.9,-40 3.9,-40 5.1,440 -5.1,440" fill="url(#lg35)" filter="url(#fb3)"/>
<polygon transform="translate(222.0,0) rotate(-5)" points="-3.9,-40 3.9,-40 5.1,440 -5.1,440" fill="url(#lg36)" filter="url(#fb3)"/>
<polygon transform="translate(250.0,0) rotate(-37)" points="-12.5,-40 12.5,-40 18.5,440 -18.5,440" fill="url(#lg37)" filter="url(#fb8)"/>
<polygon transform="translate(250.0,0) rotate(-37)" points="-4.2,-40 4.2,-40 7.2,440 -7.2,440" fill="url(#lg38)" filter="url(#fb3)"/>
</g></g>
<rect x="959.6" y="1923.3" width="353.8" height="353.3" fill="#4e40bc"/>
<g clip-path="url(#cl05)"><g transform="translate(959.6,1923.3)">
<polygon points="110.8,-24.0 105.0,-11.0 99.2,2.0 93.4,15.0 87.6,28.0 81.8,41.0 76.0,54.0 70.2,67.0 64.4,80.0 58.6,93.0 52.8,106.0 47.0,119.0 41.2,132.0 35.4,145.0 29.6,158.0 23.8,171.0 18.0,184.0 12.2,197.0 6.4,210.0 0.6,223.0 -5.2,236.0 -11.0,249.0 -16.8,262.0 -22.6,275.0 -28.4,288.0 -34.2,301.0 -40.0,314.0 -45.8,327.0 -51.6,340.0 -57.4,353.0 -63.2,366.0 -69.0,379.0 -13.9,379.0 -8.4,366.0 -3.0,353.0 2.5,340.0 8.0,327.0 13.5,314.0 19.0,301.0 24.4,288.0 29.9,275.0 35.4,262.0 40.9,249.0 46.4,236.0 51.9,223.0 57.3,210.0 62.8,197.0 68.3,184.0 73.8,171.0 79.3,158.0 84.7,145.0 90.2,132.0 95.7,119.0 101.2,106.0 106.7,93.0 112.2,80.0 117.6,67.0 123.1,54.0 128.6,41.0 134.1,28.0 139.6,15.0 145.0,2.0 150.5,-11.0 156.0,-24.0" fill="url(#lg39)" filter="url(#fb5)"/>
<polygon points="112.4,-24.0 106.4,-11.0 100.3,2.0 94.3,15.0 88.3,28.0 82.2,41.0 76.2,54.0 70.2,67.0 64.2,80.0 58.1,93.0 52.1,106.0 46.1,119.0 40.0,132.0 34.0,145.0 28.0,158.0 21.9,171.0 15.9,184.0 9.9,197.0 3.8,210.0 -2.2,223.0 -8.2,236.0 -14.3,249.0 -20.3,262.0 -26.3,275.0 -32.4,288.0 -38.4,301.0 -44.4,314.0 -50.5,327.0 -56.5,340.0 -62.5,353.0 -68.6,366.0 -74.6,379.0 -65.6,379.0 -59.7,366.0 -53.8,353.0 -47.9,340.0 -42.0,327.0 -36.1,314.0 -30.2,301.0 -24.3,288.0 -18.3,275.0 -12.4,262.0 -6.5,249.0 -0.6,236.0 5.3,223.0 11.2,210.0 17.1,197.0 23.0,184.0 29.0,171.0 34.9,158.0 40.8,145.0 46.7,132.0 52.6,119.0 58.5,106.0 64.4,93.0 70.3,80.0 76.3,67.0 82.2,54.0 88.1,41.0 94.0,28.0 99.9,15.0 105.8,2.0 111.7,-11.0 117.6,-24.0" fill="url(#lg40)" filter="url(#fb3)"/>
<polygon points="149.2,-24.0 143.8,-11.0 138.4,2.0 133.1,15.0 127.7,28.0 122.3,41.0 117.0,54.0 111.6,67.0 106.2,80.0 100.8,93.0 95.5,106.0 90.1,119.0 84.7,132.0 79.4,145.0 74.0,158.0 68.6,171.0 63.2,184.0 57.9,197.0 52.5,210.0 47.1,223.0 41.8,236.0 36.4,249.0 31.0,262.0 25.6,275.0 20.3,288.0 14.9,301.0 9.5,314.0 4.2,327.0 -1.2,340.0 -6.6,353.0 -12.0,366.0 -17.3,379.0 -8.4,379.0 -3.1,366.0 2.1,353.0 7.4,340.0 12.6,327.0 17.9,314.0 23.1,301.0 28.4,288.0 33.6,275.0 38.9,262.0 44.1,249.0 49.4,236.0 54.6,223.0 59.9,210.0 65.1,197.0 70.4,184.0 75.6,171.0 80.9,158.0 86.2,145.0 91.4,132.0 96.7,119.0 101.9,106.0 107.2,93.0 112.4,80.0 117.7,67.0 122.9,54.0 128.2,41.0 133.4,28.0 138.7,15.0 143.9,2.0 149.2,-11.0 154.4,-24.0" fill="url(#lg41)" filter="url(#fb3)"/>
<polygon points="120.6,-24.0 114.8,-11.0 109.0,2.0 103.3,15.0 97.5,28.0 91.7,41.0 86.0,54.0 80.2,67.0 74.5,80.0 68.7,93.0 62.9,106.0 57.2,119.0 51.4,132.0 45.6,145.0 39.9,158.0 34.1,171.0 28.4,184.0 22.6,197.0 16.8,210.0 11.1,223.0 5.3,236.0 -0.4,249.0 -6.2,262.0 -12.0,275.0 -17.7,288.0 -23.5,301.0 -29.3,314.0 -35.0,327.0 -40.8,340.0 -46.5,353.0 -52.3,366.0 -58.1,379.0 -24.9,379.0 -19.4,366.0 -13.9,353.0 -8.3,340.0 -2.8,327.0 2.7,314.0 8.2,301.0 13.8,288.0 19.3,275.0 24.8,262.0 30.3,249.0 35.8,236.0 41.4,223.0 46.9,210.0 52.4,197.0 57.9,184.0 63.4,171.0 69.0,158.0 74.5,145.0 80.0,132.0 85.5,119.0 91.1,106.0 96.6,93.0 102.1,80.0 107.6,67.0 113.1,54.0 118.7,41.0 124.2,28.0 129.7,15.0 135.2,2.0 140.8,-11.0 146.3,-24.0" fill="url(#lg42)" filter="url(#fb3)"/>
<polygon points="129.9,-24.0 124.1,-11.0 118.3,2.0 112.5,15.0 106.7,28.0 100.9,41.0 95.2,54.0 89.4,67.0 83.6,80.0 77.8,93.0 72.0,106.0 66.3,119.0 60.5,132.0 54.7,145.0 48.9,158.0 43.1,171.0 37.3,184.0 31.6,197.0 25.8,210.0 20.0,223.0 14.2,236.0 8.4,249.0 2.7,262.0 -3.1,275.0 -8.9,288.0 -14.7,301.0 -20.5,314.0 -26.3,327.0 -32.0,340.0 -37.8,353.0 -43.6,366.0 -49.4,379.0 -33.6,379.0 -28.1,366.0 -22.6,353.0 -17.1,340.0 -11.6,327.0 -6.1,314.0 -0.6,301.0 4.9,288.0 10.4,275.0 15.9,262.0 21.4,249.0 26.9,236.0 32.4,223.0 37.9,210.0 43.4,197.0 48.9,184.0 54.4,171.0 59.9,158.0 65.4,145.0 71.0,132.0 76.5,119.0 82.0,106.0 87.5,93.0 93.0,80.0 98.5,67.0 104.0,54.0 109.5,41.0 115.0,28.0 120.5,15.0 126.0,2.0 131.5,-11.0 137.0,-24.0" fill="url(#lg43)" filter="url(#fb1)"/>
<polygon transform="translate(163.0,0) rotate(12)" points="-3.9,-40 3.9,-40 5.1,440 -5.1,440" fill="url(#lg44)" filter="url(#fb3)"/>
<polygon transform="translate(185.0,0) rotate(5)" points="-3.9,-40 3.9,-40 5.1,440 -5.1,440" fill="url(#lg45)" filter="url(#fb3)"/>
<polygon transform="translate(207.0,0) rotate(-3)" points="-3.9,-40 3.9,-40 5.1,440 -5.1,440" fill="url(#lg46)" filter="url(#fb3)"/>
<polygon transform="translate(234.0,0) rotate(-28)" points="-12.4,-40 12.4,-40 19.6,440 -19.6,440" fill="url(#lg47)" filter="url(#fb8)"/>
<polygon transform="translate(234.0,0) rotate(-28)" points="-4.8,-40 4.8,-40 7.8,440 -7.8,440" fill="url(#lg48)" filter="url(#fb3)"/>
<polygon transform="translate(234.0,0) rotate(-28)" points="-4.4,-40 4.4,-40 5.6,440 -5.6,440" fill="url(#lg49)" filter="url(#fb3)"/>
</g></g>
<rect x="1343.2" y="90.6" width="354.3" height="354.1" fill="#4e40bc"/>
<g clip-path="url(#cl10)"><g transform="translate(1343.2,90.6)">
<polygon points="159.8,-24.0 159.3,-11.0 158.7,2.0 158.2,15.0 157.6,28.0 157.1,41.0 156.5,54.0 156.0,67.0 155.4,80.0 154.9,93.0 154.3,106.0 153.8,119.0 153.2,132.0 152.7,145.0 152.1,158.0 151.6,171.0 151.0,184.0 150.5,197.0 149.9,210.0 149.4,223.0 148.8,236.0 148.2,249.0 147.7,262.0 147.1,275.0 146.6,288.0 146.0,301.0 145.5,314.0 144.9,327.0 144.4,340.0 143.8,353.0 143.3,366.0 142.7,379.0 200.9,379.0 200.3,366.0 199.8,353.0 199.2,340.0 198.7,327.0 198.1,314.0 197.6,301.0 197.0,288.0 196.5,275.0 195.9,262.0 195.4,249.0 194.8,236.0 194.2,223.0 193.7,210.0 193.1,197.0 192.6,184.0 192.0,171.0 191.5,158.0 190.9,145.0 190.4,132.0 189.8,119.0 189.3,106.0 188.7,93.0 188.2,80.0 187.6,67.0 187.1,54.0 186.5,41.0 186.0,28.0 185.4,15.0 184.9,2.0 184.3,-11.0 183.8,-24.0" fill="url(#lg50)" filter="url(#fb5)"/>
<polygon points="165.9,-24.0 165.7,-11.0 165.5,2.0 165.3,15.0 165.1,28.0 164.9,41.0 164.7,54.0 164.6,67.0 164.4,80.0 164.2,93.0 164.0,106.0 163.8,119.0 163.6,132.0 163.4,145.0 163.2,158.0 163.0,171.0 162.8,184.0 162.6,197.0 162.4,210.0 162.2,223.0 162.0,236.0 161.9,249.0 161.7,262.0 161.5,275.0 161.3,288.0 161.1,301.0 160.9,314.0 160.7,327.0 160.5,340.0 160.3,353.0 160.1,366.0 159.9,379.0 183.7,379.0 183.5,366.0 183.3,353.0 183.1,340.0 182.9,327.0 182.7,314.0 182.5,301.0 182.3,288.0 182.1,275.0 181.9,262.0 181.7,249.0 181.5,236.0 181.4,223.0 181.2,210.0 181.0,197.0 180.8,184.0 180.6,171.0 180.4,158.0 180.2,145.0 180.0,132.0 179.8,119.0 179.6,106.0 179.4,93.0 179.2,80.0 179.0,67.0 178.9,54.0 178.7,41.0 178.5,28.0 178.3,15.0 178.1,2.0 177.9,-11.0 177.7,-24.0" fill="url(#lg51)" filter="url(#fb3)"/>
<polygon points="168.1,-24.0 168.1,-11.0 168.0,2.0 168.0,15.0 168.0,28.0 168.0,41.0 167.9,54.0 167.9,67.0 167.9,80.0 167.9,93.0 167.8,106.0 167.8,119.0 167.8,132.0 167.7,145.0 167.7,158.0 167.7,171.0 167.7,184.0 167.6,197.0 167.6,210.0 167.6,223.0 167.5,236.0 167.5,249.0 167.5,262.0 167.5,275.0 167.4,288.0 167.4,301.0 167.4,314.0 167.4,327.0 167.3,340.0 167.3,353.0 167.3,366.0 167.2,379.0 176.4,379.0 176.3,366.0 176.3,353.0 176.3,340.0 176.2,327.0 176.2,314.0 176.2,301.0 176.2,288.0 176.1,275.0 176.1,262.0 176.1,249.0 176.0,236.0 176.0,223.0 176.0,210.0 176.0,197.0 175.9,184.0 175.9,171.0 175.9,158.0 175.9,145.0 175.8,132.0 175.8,119.0 175.8,106.0 175.7,93.0 175.7,80.0 175.7,67.0 175.7,54.0 175.6,41.0 175.6,28.0 175.6,15.0 175.6,2.0 175.5,-11.0 175.5,-24.0" fill="url(#lg52)" filter="url(#fb1)"/>
<polygon transform="translate(152.0,0) rotate(0.5)" points="-3.4,-40 3.4,-40 4.6,440 -4.6,440" fill="url(#lg53)" filter="url(#fb3)"/>
</g></g>
<rect x="1343.2" y="456.7" width="354.3" height="353.9" fill="#4e40bc"/>
<g clip-path="url(#cl11)"><g transform="translate(1343.2,456.7)">
<polygon points="143.9,-24.0 142.5,-11.0 141.2,2.0 139.8,15.0 138.4,28.0 137.0,41.0 135.6,54.0 134.2,67.0 132.9,80.0 131.5,93.0 130.1,106.0 128.7,119.0 127.3,132.0 125.9,145.0 124.6,158.0 123.2,171.0 121.8,184.0 120.4,197.0 119.0,210.0 117.6,223.0 116.2,236.0 114.9,249.0 113.5,262.0 112.1,275.0 110.7,288.0 109.3,301.0 107.9,314.0 106.6,327.0 105.2,340.0 103.8,353.0 102.4,366.0 101.0,379.0 159.3,379.0 159.5,366.0 159.8,353.0 160.1,340.0 160.4,327.0 160.7,314.0 160.9,301.0 161.2,288.0 161.5,275.0 161.8,262.0 162.1,249.0 162.3,236.0 162.6,223.0 162.9,210.0 163.2,197.0 163.5,184.0 163.7,171.0 164.0,158.0 164.3,145.0 164.6,132.0 164.9,119.0 165.1,106.0 165.4,93.0 165.7,80.0 166.0,67.0 166.3,54.0 166.5,41.0 166.8,28.0 167.1,15.0 167.4,2.0 167.7,-11.0 167.9,-24.0" fill="url(#lg54)" filter="url(#fb5)"/>
<polygon points="150.0,-24.0 149.0,-11.0 148.0,2.0 147.0,15.0 145.9,28.0 144.9,41.0 143.9,54.0 142.9,67.0 141.8,80.0 140.8,93.0 139.8,106.0 138.8,119.0 137.7,132.0 136.7,145.0 135.7,158.0 134.7,171.0 133.6,184.0 132.6,197.0 131.6,210.0 130.6,223.0 129.5,236.0 128.5,249.0 127.5,262.0 126.5,275.0 125.4,288.0 124.4,301.0 123.4,314.0 122.3,327.0 121.3,340.0 120.3,353.0 119.3,366.0 118.2,379.0 142.0,379.0 142.7,366.0 143.3,353.0 144.0,340.0 144.6,327.0 145.2,314.0 145.9,301.0 146.5,288.0 147.1,275.0 147.8,262.0 148.4,249.0 149.1,236.0 149.7,223.0 150.3,210.0 151.0,197.0 151.6,184.0 152.3,171.0 152.9,158.0 153.5,145.0 154.2,132.0 154.8,119.0 155.5,106.0 156.1,93.0 156.7,80.0 157.4,67.0 158.0,54.0 158.6,41.0 159.3,28.0 159.9,15.0 160.6,2.0 161.2,-11.0 161.8,-24.0" fill="url(#lg55)" filter="url(#fb3)"/>
<polygon points="152.2,-24.0 151.4,-11.0 150.5,2.0 149.7,15.0 148.8,28.0 147.9,41.0 147.1,54.0 146.2,67.0 145.4,80.0 144.5,93.0 143.6,106.0 142.8,119.0 141.9,132.0 141.1,145.0 140.2,158.0 139.3,171.0 138.5,184.0 137.6,197.0 136.8,210.0 135.9,223.0 135.0,236.0 134.2,249.0 133.3,262.0 132.5,275.0 131.6,288.0 130.7,301.0 129.9,314.0 129.0,327.0 128.2,340.0 127.3,353.0 126.4,366.0 125.6,379.0 134.7,379.0 135.5,366.0 136.3,353.0 137.1,340.0 137.9,327.0 138.7,314.0 139.5,301.0 140.3,288.0 141.1,275.0 141.9,262.0 142.8,249.0 143.6,236.0 144.4,223.0 145.2,210.0 146.0,197.0 146.8,184.0 147.6,171.0 148.4,158.0 149.2,145.0 150.0,132.0 150.8,119.0 151.6,106.0 152.4,93.0 153.2,80.0 154.0,67.0 154.8,54.0 155.6,41.0 156.4,28.0 157.2,15.0 158.0,2.0 158.8,-11.0 159.6,-24.0" fill="url(#lg56)" filter="url(#fb1)"/>
<polygon transform="translate(138.0,0) rotate(4.5)" points="-2.9,-40 2.9,-40 4.1,440 -4.1,440" fill="url(#lg57)" filter="url(#fb3)"/>
<polygon transform="translate(166.0,0) rotate(1)" points="-2.9,-40 2.9,-40 4.1,440 -4.1,440" fill="url(#lg58)" filter="url(#fb3)"/>
</g></g>
<rect x="1343.2" y="823.4" width="354.3" height="353.6" fill="#4e40bc"/>
<g clip-path="url(#cl12)"><g transform="translate(1343.2,823.4)">
<polygon points="133.3,-24.0 131.1,-11.0 129.0,2.0 126.8,15.0 124.7,28.0 122.5,41.0 120.3,54.0 118.2,67.0 116.0,80.0 113.9,93.0 111.7,106.0 109.5,119.0 107.4,132.0 105.2,145.0 103.1,158.0 100.9,171.0 98.8,184.0 96.6,197.0 94.4,210.0 92.3,223.0 90.1,236.0 88.0,249.0 85.8,262.0 83.7,275.0 81.5,288.0 79.3,301.0 77.2,314.0 75.0,327.0 72.9,340.0 70.7,353.0 68.5,366.0 66.4,379.0 124.9,379.0 126.0,366.0 127.0,353.0 128.1,340.0 129.1,327.0 130.2,314.0 131.2,301.0 132.3,288.0 133.3,275.0 134.4,262.0 135.4,249.0 136.5,236.0 137.5,223.0 138.6,210.0 139.6,197.0 140.7,184.0 141.7,171.0 142.8,158.0 143.8,145.0 144.9,132.0 145.9,119.0 147.0,106.0 148.0,93.0 149.0,80.0 150.1,67.0 151.1,54.0 152.2,41.0 153.2,28.0 154.3,15.0 155.3,2.0 156.4,-11.0 157.4,-24.0" fill="url(#lg59)" filter="url(#fb5)"/>
<polygon points="139.4,-24.0 137.6,-11.0 135.8,2.0 134.0,15.0 132.2,28.0 130.4,41.0 128.6,54.0 126.8,67.0 125.0,80.0 123.2,93.0 121.4,106.0 119.7,119.0 117.9,132.0 116.1,145.0 114.3,158.0 112.5,171.0 110.7,184.0 108.9,197.0 107.1,210.0 105.3,223.0 103.5,236.0 101.7,249.0 99.9,262.0 98.1,275.0 96.3,288.0 94.5,301.0 92.7,314.0 90.9,327.0 89.1,340.0 87.3,353.0 85.5,366.0 83.7,379.0 107.6,379.0 109.0,366.0 110.4,353.0 111.9,340.0 113.3,327.0 114.7,314.0 116.1,301.0 117.5,288.0 118.9,275.0 120.3,262.0 121.7,249.0 123.1,236.0 124.5,223.0 125.9,210.0 127.4,197.0 128.8,184.0 130.2,171.0 131.6,158.0 133.0,145.0 134.4,132.0 135.8,119.0 137.2,106.0 138.6,93.0 140.0,80.0 141.4,67.0 142.8,54.0 144.3,41.0 145.7,28.0 147.1,15.0 148.5,2.0 149.9,-11.0 151.3,-24.0" fill="url(#lg60)" filter="url(#fb3)"/>
<polygon points="141.6,-24.0 140.0,-11.0 138.4,2.0 136.7,15.0 135.1,28.0 133.5,41.0 131.8,54.0 130.2,67.0 128.6,80.0 127.0,93.0 125.3,106.0 123.7,119.0 122.1,132.0 120.4,145.0 118.8,158.0 117.2,171.0 115.5,184.0 113.9,197.0 112.3,210.0 110.6,223.0 109.0,236.0 107.4,249.0 105.8,262.0 104.1,275.0 102.5,288.0 100.9,301.0 99.2,314.0 97.6,327.0 96.0,340.0 94.3,353.0 92.7,366.0 91.1,379.0 100.3,379.0 101.8,366.0 103.4,353.0 105.0,340.0 106.6,327.0 108.1,314.0 109.7,301.0 111.3,288.0 112.9,275.0 114.4,262.0 116.0,249.0 117.6,236.0 119.2,223.0 120.7,210.0 122.3,197.0 123.9,184.0 125.5,171.0 127.0,158.0 128.6,145.0 130.2,132.0 131.8,119.0 133.3,106.0 134.9,93.0 136.5,80.0 138.1,67.0 139.6,54.0 141.2,41.0 142.8,28.0 144.4,15.0 145.9,2.0 147.5,-11.0 149.1,-24.0" fill="url(#lg61)" filter="url(#fb1)"/>
<polygon transform="translate(125.0,0) rotate(9.5)" points="-2.9,-40 2.9,-40 4.1,440 -4.1,440" fill="url(#lg62)" filter="url(#fb3)"/>
</g></g>
<rect x="1343.2" y="1190.2" width="354.3" height="353.7" fill="#4e40bc"/>
<g clip-path="url(#cl13)"><g transform="translate(1343.2,1190.2)">
<polygon points="124.4,-24.0 120.7,-11.0 117.1,2.0 113.4,15.0 109.8,28.0 106.1,41.0 102.5,54.0 98.8,67.0 95.2,80.0 91.5,93.0 87.8,106.0 84.2,119.0 80.5,132.0 76.9,145.0 73.2,158.0 69.6,171.0 65.9,184.0 62.3,197.0 58.6,210.0 55.0,223.0 51.3,236.0 47.7,249.0 44.0,262.0 40.3,275.0 36.7,288.0 33.0,301.0 29.4,314.0 25.7,327.0 22.1,340.0 18.4,353.0 14.8,366.0 11.1,379.0 70.9,379.0 73.4,366.0 75.9,353.0 78.4,340.0 80.9,327.0 83.5,314.0 86.0,301.0 88.5,288.0 91.0,275.0 93.5,262.0 96.1,249.0 98.6,236.0 101.1,223.0 103.6,210.0 106.2,197.0 108.7,184.0 111.2,171.0 113.7,158.0 116.2,145.0 118.8,132.0 121.3,119.0 123.8,106.0 126.3,93.0 128.8,80.0 131.4,67.0 133.9,54.0 136.4,41.0 138.9,28.0 141.5,15.0 144.0,2.0 146.5,-11.0 149.0,-24.0" fill="url(#lg63)" filter="url(#fb5)"/>
<polygon points="130.6,-24.0 127.4,-11.0 124.1,2.0 120.8,15.0 117.5,28.0 114.2,41.0 110.9,54.0 107.6,67.0 104.4,80.0 101.1,93.0 97.8,106.0 94.5,119.0 91.2,132.0 87.9,145.0 84.6,158.0 81.4,171.0 78.1,184.0 74.8,197.0 71.5,210.0 68.2,223.0 64.9,236.0 61.6,249.0 58.4,262.0 55.1,275.0 51.8,288.0 48.5,301.0 45.2,314.0 41.9,327.0 38.6,340.0 35.4,353.0 32.1,366.0 28.8,379.0 53.2,379.0 56.1,366.0 59.0,353.0 61.9,340.0 64.7,327.0 67.6,314.0 70.5,301.0 73.4,288.0 76.3,275.0 79.2,262.0 82.1,249.0 85.0,236.0 87.9,223.0 90.7,210.0 93.6,197.0 96.5,184.0 99.4,171.0 102.3,158.0 105.2,145.0 108.1,132.0 111.0,119.0 113.9,106.0 116.8,93.0 119.6,80.0 122.5,67.0 125.4,54.0 128.3,41.0 131.2,28.0 134.1,15.0 137.0,2.0 139.9,-11.0 142.8,-24.0" fill="url(#lg64)" filter="url(#fb3)"/>
<polygon points="132.9,-24.0 129.8,-11.0 126.7,2.0 123.6,15.0 120.4,28.0 117.3,41.0 114.2,54.0 111.1,67.0 108.0,80.0 104.9,93.0 101.7,106.0 98.6,119.0 95.5,132.0 92.4,145.0 89.3,158.0 86.2,171.0 83.0,184.0 79.9,197.0 76.8,210.0 73.7,223.0 70.6,236.0 67.5,249.0 64.4,262.0 61.2,275.0 58.1,288.0 55.0,301.0 51.9,314.0 48.8,327.0 45.7,340.0 42.5,353.0 39.4,366.0 36.3,379.0 45.7,379.0 48.7,366.0 51.8,353.0 54.8,340.0 57.9,327.0 61.0,314.0 64.0,301.0 67.1,288.0 70.1,275.0 73.2,262.0 76.3,249.0 79.3,236.0 82.4,223.0 85.4,210.0 88.5,197.0 91.6,184.0 94.6,171.0 97.7,158.0 100.7,145.0 103.8,132.0 106.9,119.0 109.9,106.0 113.0,93.0 116.0,80.0 119.1,67.0 122.1,54.0 125.2,41.0 128.3,28.0 131.3,15.0 134.4,2.0 137.4,-11.0 140.5,-24.0" fill="url(#lg65)" filter="url(#fb1)"/>
<polygon transform="translate(112.0,0) rotate(14.5)" points="-2.9,-40 2.9,-40 4.1,440 -4.1,440" fill="url(#lg66)" filter="url(#fb3)"/>
<polygon transform="translate(270.0,0) rotate(-42)" points="-9.5,-40 9.5,-40 15.5,440 -15.5,440" fill="url(#lg67)" filter="url(#fb5)"/>
</g></g>
<rect x="1343.2" y="1557.0" width="354.3" height="354.0" fill="#4e40bc"/>
<g clip-path="url(#cl14)"><g transform="translate(1343.2,1557.0)">
<polygon points="122.5,-24.0 118.4,-11.0 114.3,2.0 110.2,15.0 106.1,28.0 102.0,41.0 97.9,54.0 93.8,67.0 89.6,80.0 85.5,93.0 81.4,106.0 77.3,119.0 73.2,132.0 69.1,145.0 65.0,158.0 60.9,171.0 56.8,184.0 52.7,197.0 48.6,210.0 44.5,223.0 40.4,236.0 36.3,249.0 32.1,262.0 28.0,275.0 23.9,288.0 19.8,301.0 15.7,314.0 11.6,327.0 7.5,340.0 3.4,353.0 -0.7,366.0 -4.8,379.0 61.6,379.0 64.6,366.0 67.6,353.0 70.5,340.0 73.5,327.0 76.5,314.0 79.4,301.0 82.4,288.0 85.4,275.0 88.3,262.0 91.3,249.0 94.3,236.0 97.2,223.0 100.2,210.0 103.1,197.0 106.1,184.0 109.1,171.0 112.0,158.0 115.0,145.0 118.0,132.0 120.9,119.0 123.9,106.0 126.9,93.0 129.8,80.0 132.8,67.0 135.8,54.0 138.7,41.0 141.7,28.0 144.7,15.0 147.6,2.0 150.6,-11.0 153.6,-24.0" fill="url(#lg68)" filter="url(#fb5)"/>
<polygon points="130.2,-24.0 126.4,-11.0 122.6,2.0 118.8,15.0 115.0,28.0 111.2,41.0 107.4,54.0 103.6,67.0 99.8,80.0 96.0,93.0 92.2,106.0 88.4,119.0 84.6,132.0 80.8,145.0 77.0,158.0 73.2,171.0 69.4,184.0 65.6,197.0 61.8,210.0 58.0,223.0 54.2,236.0 50.4,249.0 46.6,262.0 42.8,275.0 39.0,288.0 35.2,301.0 31.4,314.0 27.6,327.0 23.8,340.0 20.0,353.0 16.2,366.0 12.4,379.0 44.5,379.0 47.7,366.0 51.0,353.0 54.3,340.0 57.5,327.0 60.8,314.0 64.1,301.0 67.4,288.0 70.6,275.0 73.9,262.0 77.2,249.0 80.4,236.0 83.7,223.0 87.0,210.0 90.2,197.0 93.5,184.0 96.8,171.0 100.1,158.0 103.3,145.0 106.6,132.0 109.9,119.0 113.1,106.0 116.4,93.0 119.7,80.0 122.9,67.0 126.2,54.0 129.5,41.0 132.7,28.0 136.0,15.0 139.3,2.0 142.6,-11.0 145.8,-24.0" fill="url(#lg69)" filter="url(#fb3)"/>
<polygon points="134.2,-24.0 130.6,-11.0 127.1,2.0 123.5,15.0 119.9,28.0 116.4,41.0 112.8,54.0 109.2,67.0 105.7,80.0 102.1,93.0 98.5,106.0 95.0,119.0 91.4,132.0 87.9,145.0 84.3,158.0 80.7,171.0 77.2,184.0 73.6,197.0 70.0,210.0 66.5,223.0 62.9,236.0 59.3,249.0 55.8,262.0 52.2,275.0 48.6,288.0 45.1,301.0 41.5,314.0 38.0,327.0 34.4,340.0 30.8,353.0 27.3,366.0 23.7,379.0 33.1,379.0 36.6,366.0 40.1,353.0 43.7,340.0 47.2,327.0 50.7,314.0 54.2,301.0 57.7,288.0 61.2,275.0 64.7,262.0 68.2,249.0 71.7,236.0 75.2,223.0 78.7,210.0 82.2,197.0 85.7,184.0 89.2,171.0 92.8,158.0 96.3,145.0 99.8,132.0 103.3,119.0 106.8,106.0 110.3,93.0 113.8,80.0 117.3,67.0 120.8,54.0 124.3,41.0 127.8,28.0 131.3,15.0 134.8,2.0 138.4,-11.0 141.9,-24.0" fill="url(#lg70)" filter="url(#fb1)"/>
<polygon transform="translate(320.0,0) rotate(-40)" points="-14.5,-40 14.5,-40 20.5,440 -20.5,440" fill="url(#lg71)" filter="url(#fb8)"/>
</g></g>
<rect x="1343.2" y="1923.3" width="354.3" height="353.3" fill="#4e40bc"/>
<g clip-path="url(#cl15)"><g transform="translate(1343.2,1923.3)">
<polygon points="96.1,-24.0 90.7,-11.0 85.3,2.0 80.0,15.0 74.6,28.0 69.2,41.0 63.8,54.0 58.5,67.0 53.1,80.0 47.7,93.0 42.4,106.0 37.0,119.0 31.6,132.0 26.2,145.0 20.9,158.0 15.5,171.0 10.1,184.0 4.8,197.0 -0.6,210.0 -6.0,223.0 -11.4,236.0 -16.7,249.0 -22.1,262.0 -27.5,275.0 -32.8,288.0 -38.2,301.0 -43.6,314.0 -49.0,327.0 -54.3,340.0 -59.7,353.0 -65.1,366.0 -70.4,379.0 -8.5,379.0 -4.3,366.0 -0.1,353.0 4.1,340.0 8.3,327.0 12.5,314.0 16.7,301.0 20.9,288.0 25.1,275.0 29.3,262.0 33.5,249.0 37.7,236.0 41.9,223.0 46.1,210.0 50.3,197.0 54.4,184.0 58.6,171.0 62.8,158.0 67.0,145.0 71.2,132.0 75.4,119.0 79.6,106.0 83.8,93.0 88.0,80.0 92.2,67.0 96.4,54.0 100.6,41.0 104.8,28.0 109.0,15.0 113.2,2.0 117.4,-11.0 121.6,-24.0" fill="url(#lg72)" filter="url(#fb5)"/>
<polygon points="102.6,-24.0 97.6,-11.0 92.6,2.0 87.6,15.0 82.6,28.0 77.6,41.0 72.6,54.0 67.6,67.0 62.6,80.0 57.6,93.0 52.7,106.0 47.7,119.0 42.7,132.0 37.7,145.0 32.7,158.0 27.7,171.0 22.7,184.0 17.7,197.0 12.7,210.0 7.8,223.0 2.8,236.0 -2.2,249.0 -7.2,262.0 -12.2,275.0 -17.2,288.0 -22.2,301.0 -27.2,314.0 -32.2,327.0 -37.2,340.0 -42.1,353.0 -47.1,366.0 -52.1,379.0 -26.8,379.0 -22.2,366.0 -17.7,353.0 -13.1,340.0 -8.5,327.0 -3.9,314.0 0.6,301.0 5.2,288.0 9.8,275.0 14.4,262.0 19.0,249.0 23.5,236.0 28.1,223.0 32.7,210.0 37.3,197.0 41.9,184.0 46.4,171.0 51.0,158.0 55.6,145.0 60.2,132.0 64.7,119.0 69.3,106.0 73.9,93.0 78.5,80.0 83.1,67.0 87.6,54.0 92.2,41.0 96.8,28.0 101.4,15.0 106.0,2.0 110.5,-11.0 115.1,-24.0" fill="url(#lg73)" filter="url(#fb3)"/>
<polygon points="104.9,-24.0 100.1,-11.0 95.3,2.0 90.5,15.0 85.6,28.0 80.8,41.0 76.0,54.0 71.2,67.0 66.4,80.0 61.6,93.0 56.8,106.0 51.9,119.0 47.1,132.0 42.3,145.0 37.5,158.0 32.7,171.0 27.9,184.0 23.1,197.0 18.3,210.0 13.4,223.0 8.6,236.0 3.8,249.0 -1.0,262.0 -5.8,275.0 -10.6,288.0 -15.4,301.0 -20.3,314.0 -25.1,327.0 -29.9,340.0 -34.7,353.0 -39.5,366.0 -44.3,379.0 -34.6,379.0 -29.9,366.0 -25.1,353.0 -20.4,340.0 -15.6,327.0 -10.8,314.0 -6.1,301.0 -1.3,288.0 3.4,275.0 8.2,262.0 12.9,249.0 17.7,236.0 22.4,223.0 27.2,210.0 31.9,197.0 36.7,184.0 41.5,171.0 46.2,158.0 51.0,145.0 55.7,132.0 60.5,119.0 65.2,106.0 70.0,93.0 74.7,80.0 79.5,67.0 84.2,54.0 89.0,41.0 93.8,28.0 98.5,15.0 103.3,2.0 108.0,-11.0 112.8,-24.0" fill="url(#lg74)" filter="url(#fb1)"/>
<polygon transform="translate(219.0,0) rotate(-34)" points="-11.4,-40 11.4,-40 18.6,440 -18.6,440" fill="url(#lg75)" filter="url(#fb8)"/>
<polygon transform="translate(160.0,0) rotate(10)" points="-4.8,-40 4.8,-40 7.2,440 -7.2,440" fill="url(#lg76)" filter="url(#fb5)"/>
<polygon transform="translate(190.0,0) rotate(-5)" points="-4.8,-40 4.8,-40 7.2,440 -7.2,440" fill="url(#lg77)" filter="url(#fb5)"/>
</g></g>
<g clip-path="url(#cl00)"><circle cx="1143" cy="5" r="165.5" fill="none" stroke="#fff" stroke-width="2.2" stroke-dasharray="7.6 4.6"/></g>
<g clip-path="url(#cl10)"><circle cx="1525.5" cy="5" r="165.5" fill="none" stroke="#fff" stroke-width="2.2" stroke-dasharray="7.6 4.6"/></g>
<path d="M996 117.5 H1013" stroke="#3a4a86" stroke-width="3.4" fill="none"/>
<path d="M1011 108.5 L1030 117.5 L1011 126.5 Z" fill="#1f6d58" stroke="#34507a" stroke-width="1.2"/>
<path d="M983.6 129 V148" stroke="#7a1f70" stroke-width="3.4" fill="none"/>
<path d="M972.5 147.5 L994.7 147.5 L983.6 168.5 Z" fill="#ab1230" stroke="#7a2060" stroke-width="1.2"/>
<circle cx="983.6" cy="117" r="13" fill="#f7941f"/>
<circle cx="983.6" cy="117" r="5.5" fill="none" stroke="#f9a440" stroke-width="1.2"/>
<text x="988.5" y="414.1" font-size="39.3" fill="#fff" text-anchor="start" font-weight="normal" stroke="#fff" stroke-width="0.9" >0°</text>
<rect x="1207.6" y="413.6" width="77.6" height="7.5" fill="#fff"/>
<text x="988.5" y="783.6" font-size="39.3" fill="#fff" text-anchor="start" font-weight="normal" stroke="#fff" stroke-width="0.9" >5°</text>
<rect x="1207.6" y="776.1" width="77.6" height="7.5" fill="#fff"/>
<text x="988.5" y="1154.4" font-size="39.3" fill="#fff" text-anchor="start" font-weight="normal" stroke="#fff" stroke-width="0.9" >10°</text>
<rect x="1207.6" y="1143.3" width="77.6" height="7.5" fill="#fff"/>
<text x="988.5" y="1519.0" font-size="39.3" fill="#fff" text-anchor="start" font-weight="normal" stroke="#fff" stroke-width="0.9" >15°</text>
<rect x="1207.6" y="1513.1" width="77.6" height="7.5" fill="#fff"/>
<text x="988.5" y="1886.0" font-size="39.3" fill="#fff" text-anchor="start" font-weight="normal" stroke="#fff" stroke-width="0.9" >20°</text>
<rect x="1207.6" y="1878.5" width="77.6" height="7.5" fill="#fff"/>
<text x="988.5" y="2251.5" font-size="39.3" fill="#fff" text-anchor="start" font-weight="normal" stroke="#fff" stroke-width="0.9" >25°</text>
<rect x="1207.6" y="2243.8" width="77.6" height="7.5" fill="#fff"/>
<text x="1380" y="414.1" font-size="39.3" fill="#fff" text-anchor="start" font-weight="normal" stroke="#fff" stroke-width="0.9" >0°</text>
<rect x="1593.3" y="413.6" width="77.6" height="7.5" fill="#fff"/>
<rect x="1593.3" y="776.1" width="77.6" height="7.5" fill="#fff"/>
<text x="1380" y="1154.4" font-size="39.3" fill="#fff" text-anchor="start" font-weight="normal" stroke="#fff" stroke-width="0.9" >10°</text>
<rect x="1593.3" y="1143.3" width="77.6" height="7.5" fill="#fff"/>
<text x="1380" y="1519.0" font-size="39.3" fill="#fff" text-anchor="start" font-weight="normal" stroke="#fff" stroke-width="0.9" >15°</text>
<rect x="1593.3" y="1513.1" width="77.6" height="7.5" fill="#fff"/>
<text x="1380" y="1886.0" font-size="39.3" fill="#fff" text-anchor="start" font-weight="normal" stroke="#fff" stroke-width="0.9" >20°</text>
<rect x="1593.3" y="1878.5" width="77.6" height="7.5" fill="#fff"/>
<text x="1380" y="2251.5" font-size="39.3" fill="#fff" text-anchor="start" font-weight="normal" stroke="#fff" stroke-width="0.9" >25°</text>
<rect x="1593.3" y="2243.8" width="77.6" height="7.5" fill="#fff"/>
<text x="955.6" y="30.6" font-size="40" fill="#000" text-anchor="start" font-weight="bold" stroke="#000" stroke-width="0.3" >b</text>
<text x="1137.5" y="65" font-size="39.3" fill="#000" text-anchor="middle" font-weight="normal" stroke="#000" stroke-width="0.9" >I. Planar</text>
<text x="1519.5" y="65" font-size="39.3" fill="#000" text-anchor="middle" font-weight="normal" stroke="#000" stroke-width="0.9" >II. Curvilinear</text>
<path d="M959.5 71.5 V51 H1020" fill="none" stroke="#111" stroke-width="1.5"/>
<path d="M1251.5 51 H1311.5 V71.5" fill="none" stroke="#111" stroke-width="1.5"/>
<path d="M1342.5 71.5 V51 H1402" fill="none" stroke="#111" stroke-width="1.5"/>
<path d="M1635 51 H1696.5 V71.5" fill="none" stroke="#111" stroke-width="1.5"/>
<text x="1506" y="215.8" font-size="39.3" fill="#fff" text-anchor="start" font-weight="normal" stroke="#fff" stroke-width="0.9" >r = 30 mm</text>
<rect x="960" y="2293" width="738.5" height="26.7" fill="url(#parula)" stroke="#888" stroke-width="1"/>
<line x1="1033.8" y1="2319.7" x2="1033.8" y2="2313.5" stroke="#333" stroke-opacity="0.6" stroke-width="1.2"/>
<line x1="1107.7" y1="2319.7" x2="1107.7" y2="2313.5" stroke="#333" stroke-opacity="0.6" stroke-width="1.2"/>
<line x1="1181.5" y1="2319.7" x2="1181.5" y2="2313.5" stroke="#333" stroke-opacity="0.6" stroke-width="1.2"/>
<line x1="1255.4" y1="2319.7" x2="1255.4" y2="2313.5" stroke="#333" stroke-opacity="0.6" stroke-width="1.2"/>
<line x1="1329.2" y1="2319.7" x2="1329.2" y2="2313.5" stroke="#333" stroke-opacity="0.6" stroke-width="1.2"/>
<line x1="1403.1" y1="2319.7" x2="1403.1" y2="2313.5" stroke="#333" stroke-opacity="0.6" stroke-width="1.2"/>
<line x1="1477.0" y1="2319.7" x2="1477.0" y2="2313.5" stroke="#333" stroke-opacity="0.6" stroke-width="1.2"/>
<line x1="1550.8" y1="2319.7" x2="1550.8" y2="2313.5" stroke="#333" stroke-opacity="0.6" stroke-width="1.2"/>
<line x1="1624.7" y1="2319.7" x2="1624.7" y2="2313.5" stroke="#333" stroke-opacity="0.6" stroke-width="1.2"/>
<text x="961.8" y="2361.3" font-size="39.3" fill="#000" text-anchor="middle" font-weight="normal" stroke="#000" stroke-width="0.9" >0</text>
<text x="1108.2" y="2361.3" font-size="39.3" fill="#000" text-anchor="middle" font-weight="normal" stroke="#000" stroke-width="0.9" >0.2</text>
<text x="1255.9" y="2361.3" font-size="39.3" fill="#000" text-anchor="middle" font-weight="normal" stroke="#000" stroke-width="0.9" >0.4</text>
<text x="1403.6" y="2361.3" font-size="39.3" fill="#000" text-anchor="middle" font-weight="normal" stroke="#000" stroke-width="0.9" >0.6</text>
<text x="1551.3" y="2361.3" font-size="39.3" fill="#000" text-anchor="middle" font-weight="normal" stroke="#000" stroke-width="0.9" >0.8</text>
<text x="1698.6" y="2365" font-size="39.3" fill="#000" text-anchor="middle" font-weight="normal" stroke="#000" stroke-width="0.9" >1</text>
<text x="1341.5" y="2399.5" font-size="39.3" fill="#000" text-anchor="middle" font-weight="normal" stroke="#000" stroke-width="0.9" >Intensity</text>
</g>
</svg>
</body>
</html>
